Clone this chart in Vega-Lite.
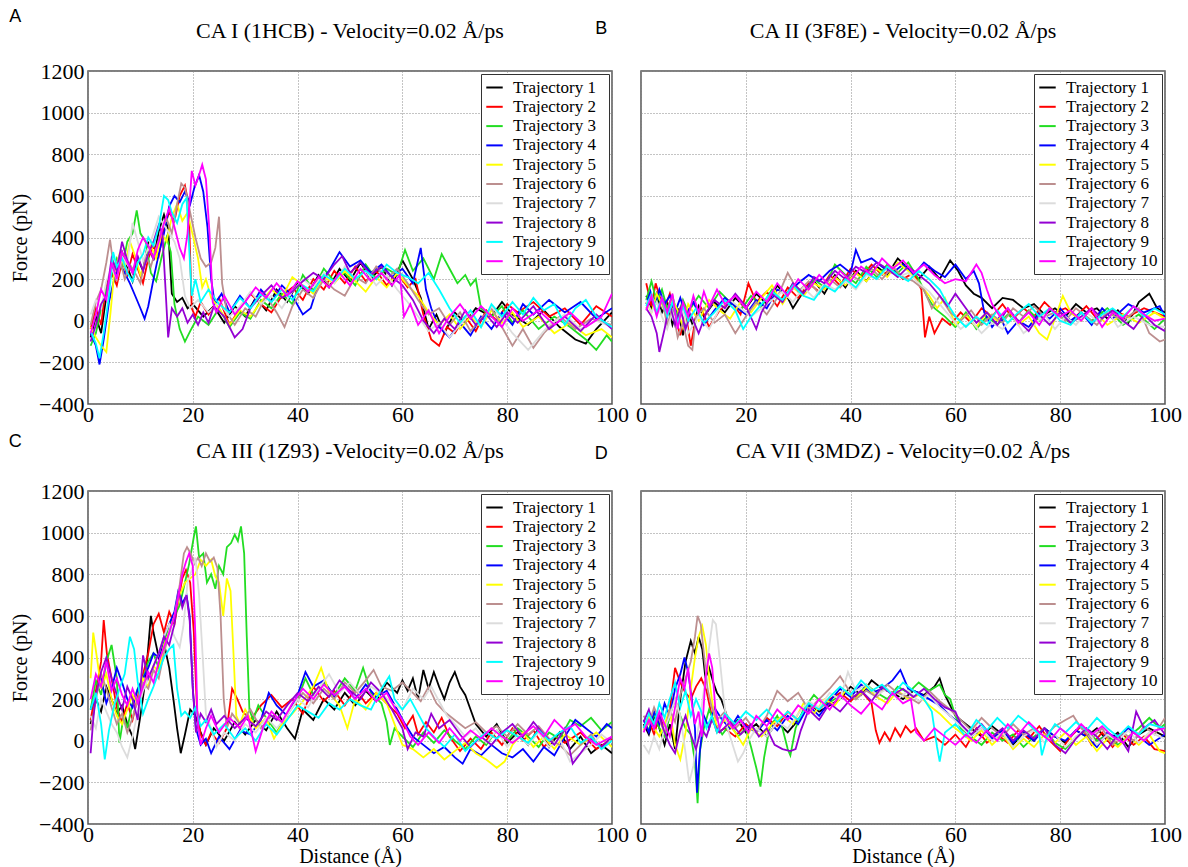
{
"$schema": "https://vega.github.io/schema/vega-lite/v6.json",
"background": "white",
"padding": {"left": 7, "top": 7, "right": 2, "bottom": 0},
"config": {
 "font": "Liberation Serif",
 "view": {"stroke": "#555", "strokeWidth": 1.5},
 "legend": {"orient": "top-right", "offset": 3, "strokeColor": "#333", "fillColor": "white", "padding": 4, "symbolType": "stroke", "symbolSize": 270, "symbolStrokeWidth": 2, "labelFont": "Liberation Serif", "labelFontSize": 17, "labelColor": "#000", "rowPadding": 1.3, "labelOffset": 9, "title": null}
},
"columns": 2,
"spacing": {"row": 87, "column": 29},
"bounds": "flush",
"resolve": {"scale": {"x": "independent", "y": "independent", "color": "independent"}, "legend": {"color": "independent"}},
"datasets": {
"A": [
{"s":1,"d":0.5,"f":-80},{"s":1,"d":1.5,"f":20},{"s":1,"d":2.5,"f":-60},{"s":1,"d":3.5,"f":120},{"s":1,"d":4.5,"f":260},{"s":1,"d":5.5,"f":200},{"s":1,"d":6.5,"f":330},{"s":1,"d":7.5,"f":260},{"s":1,"d":8.5,"f":190},{"s":1,"d":9.5,"f":300},{"s":1,"d":10.5,"f":240},{"s":1,"d":11.5,"f":380},{"s":1,"d":12.5,"f":290},{"s":1,"d":13.5,"f":430},{"s":1,"d":14.5,"f":510},{"s":1,"d":15.3,"f":440},{"s":1,"d":16,"f":130},{"s":1,"d":17,"f":90},{"s":1,"d":18,"f":110},{"s":1,"d":19,"f":60},{"s":1,"d":20,"f":80},{"s":1,"d":22,"f":20},{"s":1,"d":24,"f":70},{"s":1,"d":26,"f":-10},{"s":1,"d":28,"f":70},{"s":1,"d":30,"f":20},{"s":1,"d":32,"f":110},{"s":1,"d":34,"f":50},{"s":1,"d":36,"f":150},{"s":1,"d":38,"f":90},{"s":1,"d":40,"f":180},{"s":1,"d":42,"f":130},{"s":1,"d":44,"f":220},{"s":1,"d":46,"f":160},{"s":1,"d":48,"f":250},{"s":1,"d":50,"f":190},{"s":1,"d":52,"f":280},{"s":1,"d":54,"f":200},{"s":1,"d":56,"f":260},{"s":1,"d":58,"f":170},{"s":1,"d":60,"f":290},{"s":1,"d":62,"f":200},{"s":1,"d":63.5,"f":110},{"s":1,"d":65,"f":-40},{"s":1,"d":66.5,"f":30},{"s":1,"d":68,"f":-60},{"s":1,"d":70,"f":40},{"s":1,"d":72,"f":-10},{"s":1,"d":74,"f":60},{"s":1,"d":77,"f":20},{"s":1,"d":79,"f":90},{"s":1,"d":81,"f":30},{"s":1,"d":84,"f":-20},{"s":1,"d":87,"f":50},{"s":1,"d":90,"f":-30},{"s":1,"d":93,"f":-90},{"s":1,"d":95,"f":-110},{"s":1,"d":97,"f":-40},{"s":1,"d":100,"f":40},
{"s":2,"d":0.5,"f":-40},{"s":2,"d":1.5,"f":60},{"s":2,"d":2.5,"f":-20},{"s":2,"d":3.5,"f":180},{"s":2,"d":4.5,"f":230},{"s":2,"d":5.5,"f":170},{"s":2,"d":6.5,"f":290},{"s":2,"d":7.5,"f":220},{"s":2,"d":8.5,"f":320},{"s":2,"d":9.5,"f":250},{"s":2,"d":10.5,"f":180},{"s":2,"d":11.5,"f":300},{"s":2,"d":12.5,"f":360},{"s":2,"d":13.5,"f":310},{"s":2,"d":14.5,"f":450},{"s":2,"d":15.5,"f":520},{"s":2,"d":16.5,"f":480},{"s":2,"d":17.5,"f":600},{"s":2,"d":18.5,"f":650},{"s":2,"d":19.2,"f":560},{"s":2,"d":19.8,"f":60},{"s":2,"d":20.5,"f":20},{"s":2,"d":21.5,"f":90},{"s":2,"d":23,"f":30},{"s":2,"d":25,"f":110},{"s":2,"d":27,"f":-20},{"s":2,"d":29,"f":60},{"s":2,"d":31,"f":130},{"s":2,"d":33,"f":80},{"s":2,"d":35,"f":40},{"s":2,"d":37,"f":120},{"s":2,"d":39,"f":160},{"s":2,"d":41,"f":100},{"s":2,"d":43,"f":200},{"s":2,"d":45,"f":150},{"s":2,"d":47,"f":240},{"s":2,"d":49,"f":180},{"s":2,"d":51,"f":260},{"s":2,"d":53,"f":190},{"s":2,"d":55,"f":240},{"s":2,"d":57,"f":170},{"s":2,"d":59,"f":230},{"s":2,"d":61,"f":160},{"s":2,"d":62.5,"f":200},{"s":2,"d":64,"f":30},{"s":2,"d":65.5,"f":-90},{"s":2,"d":67,"f":-120},{"s":2,"d":68.5,"f":-30},{"s":2,"d":70,"f":-60},{"s":2,"d":72,"f":20},{"s":2,"d":74,"f":-50},{"s":2,"d":76,"f":50},{"s":2,"d":78,"f":0},{"s":2,"d":80,"f":80},{"s":2,"d":82,"f":40},{"s":2,"d":85,"f":90},{"s":2,"d":88,"f":20},{"s":2,"d":91,"f":60},{"s":2,"d":94,"f":-20},{"s":2,"d":97,"f":70},{"s":2,"d":100,"f":20},
{"s":3,"d":0.5,"f":-120},{"s":3,"d":1.5,"f":-60},{"s":3,"d":2.5,"f":60},{"s":3,"d":3.5,"f":150},{"s":3,"d":4.5,"f":220},{"s":3,"d":5.5,"f":300},{"s":3,"d":6.5,"f":250},{"s":3,"d":7.5,"f":380},{"s":3,"d":8.5,"f":420},{"s":3,"d":9.3,"f":530},{"s":3,"d":10,"f":420},{"s":3,"d":11,"f":380},{"s":3,"d":12,"f":230},{"s":3,"d":13,"f":190},{"s":3,"d":14,"f":300},{"s":3,"d":15,"f":400},{"s":3,"d":15.8,"f":330},{"s":3,"d":16.5,"f":80},{"s":3,"d":17.5,"f":-40},{"s":3,"d":18.5,"f":-100},{"s":3,"d":19.5,"f":-50},{"s":3,"d":21,"f":20},{"s":3,"d":23,"f":-20},{"s":3,"d":25,"f":60},{"s":3,"d":27,"f":-30},{"s":3,"d":29,"f":40},{"s":3,"d":31,"f":10},{"s":3,"d":33,"f":100},{"s":3,"d":35,"f":60},{"s":3,"d":37,"f":130},{"s":3,"d":39,"f":80},{"s":3,"d":41,"f":220},{"s":3,"d":43,"f":150},{"s":3,"d":45,"f":250},{"s":3,"d":47,"f":190},{"s":3,"d":49,"f":230},{"s":3,"d":51,"f":170},{"s":3,"d":53,"f":270},{"s":3,"d":55,"f":200},{"s":3,"d":57,"f":250},{"s":3,"d":59,"f":220},{"s":3,"d":60.5,"f":340},{"s":3,"d":62,"f":240},{"s":3,"d":64,"f":300},{"s":3,"d":66,"f":200},{"s":3,"d":67.5,"f":320},{"s":3,"d":69,"f":250},{"s":3,"d":70.5,"f":180},{"s":3,"d":72,"f":220},{"s":3,"d":73,"f":170},{"s":3,"d":74,"f":200},{"s":3,"d":75,"f":60},{"s":3,"d":77,"f":20},{"s":3,"d":79,"f":70},{"s":3,"d":81,"f":-10},{"s":3,"d":83,"f":50},{"s":3,"d":86,"f":-40},{"s":3,"d":89,"f":20},{"s":3,"d":92,"f":-30},{"s":3,"d":95,"f":-90},{"s":3,"d":97,"f":-140},{"s":3,"d":99,"f":-70},{"s":3,"d":100,"f":-100},
{"s":4,"d":0.5,"f":-60},{"s":4,"d":1.5,"f":-120},{"s":4,"d":2.2,"f":-210},{"s":4,"d":3,"f":-90},{"s":4,"d":4,"f":90},{"s":4,"d":5,"f":200},{"s":4,"d":6,"f":280},{"s":4,"d":7,"f":230},{"s":4,"d":8,"f":180},{"s":4,"d":9,"f":120},{"s":4,"d":10,"f":60},{"s":4,"d":10.8,"f":10},{"s":4,"d":11.5,"f":70},{"s":4,"d":12.5,"f":200},{"s":4,"d":13.5,"f":320},{"s":4,"d":14.5,"f":420},{"s":4,"d":15.5,"f":550},{"s":4,"d":16.5,"f":600},{"s":4,"d":17.5,"f":570},{"s":4,"d":18.5,"f":620},{"s":4,"d":19.5,"f":560},{"s":4,"d":20.3,"f":640},{"s":4,"d":21.2,"f":700},{"s":4,"d":22,"f":620},{"s":4,"d":22.8,"f":450},{"s":4,"d":23.5,"f":200},{"s":4,"d":24.2,"f":80},{"s":4,"d":25.5,"f":130},{"s":4,"d":27,"f":40},{"s":4,"d":29,"f":120},{"s":4,"d":31,"f":60},{"s":4,"d":33,"f":150},{"s":4,"d":35,"f":90},{"s":4,"d":37,"f":170},{"s":4,"d":39,"f":120},{"s":4,"d":41,"f":30},{"s":4,"d":42.5,"f":60},{"s":4,"d":44,"f":180},{"s":4,"d":46,"f":240},{"s":4,"d":48,"f":330},{"s":4,"d":50,"f":260},{"s":4,"d":52,"f":290},{"s":4,"d":54,"f":230},{"s":4,"d":56,"f":270},{"s":4,"d":58,"f":210},{"s":4,"d":60,"f":250},{"s":4,"d":62,"f":180},{"s":4,"d":63.5,"f":350},{"s":4,"d":64.5,"f":150},{"s":4,"d":65.5,"f":60},{"s":4,"d":67,"f":-30},{"s":4,"d":69,"f":-80},{"s":4,"d":71,"f":-10},{"s":4,"d":73,"f":-70},{"s":4,"d":75,"f":20},{"s":4,"d":77,"f":-40},{"s":4,"d":79,"f":40},{"s":4,"d":81,"f":-20},{"s":4,"d":83,"f":80},{"s":4,"d":85,"f":30},{"s":4,"d":88,"f":100},{"s":4,"d":91,"f":40},{"s":4,"d":94,"f":90},{"s":4,"d":97,"f":10},{"s":4,"d":100,"f":60},
{"s":5,"d":0.5,"f":-30},{"s":5,"d":1.5,"f":-80},{"s":5,"d":2.5,"f":-120},{"s":5,"d":3.5,"f":-150},{"s":5,"d":4.3,"f":40},{"s":5,"d":5,"f":230},{"s":5,"d":6,"f":320},{"s":5,"d":7,"f":260},{"s":5,"d":8,"f":380},{"s":5,"d":9,"f":310},{"s":5,"d":10,"f":220},{"s":5,"d":11,"f":280},{"s":5,"d":12,"f":360},{"s":5,"d":13,"f":300},{"s":5,"d":14,"f":420},{"s":5,"d":15,"f":380},{"s":5,"d":16,"f":500},{"s":5,"d":17,"f":560},{"s":5,"d":18,"f":480},{"s":5,"d":19,"f":520},{"s":5,"d":20,"f":410},{"s":5,"d":21,"f":300},{"s":5,"d":21.8,"f":160},{"s":5,"d":22.5,"f":200},{"s":5,"d":23.5,"f":110},{"s":5,"d":25,"f":60},{"s":5,"d":27,"f":-20},{"s":5,"d":29,"f":50},{"s":5,"d":31,"f":20},{"s":5,"d":33,"f":90},{"s":5,"d":35,"f":150},{"s":5,"d":37,"f":110},{"s":5,"d":39,"f":210},{"s":5,"d":41,"f":170},{"s":5,"d":43,"f":130},{"s":5,"d":45,"f":210},{"s":5,"d":47,"f":180},{"s":5,"d":49,"f":240},{"s":5,"d":51,"f":190},{"s":5,"d":53,"f":140},{"s":5,"d":55,"f":210},{"s":5,"d":57,"f":160},{"s":5,"d":59,"f":230},{"s":5,"d":61,"f":170},{"s":5,"d":63,"f":120},{"s":5,"d":65,"f":40},{"s":5,"d":67,"f":-20},{"s":5,"d":69,"f":30},{"s":5,"d":71,"f":-40},{"s":5,"d":73,"f":20},{"s":5,"d":75,"f":-30},{"s":5,"d":77,"f":50},{"s":5,"d":79,"f":-10},{"s":5,"d":81,"f":40},{"s":5,"d":83,"f":-30},{"s":5,"d":86,"f":20},{"s":5,"d":89,"f":-60},{"s":5,"d":92,"f":-10},{"s":5,"d":95,"f":-70},{"s":5,"d":98,"f":-40},{"s":5,"d":100,"f":-80},
{"s":6,"d":0.5,"f":-20},{"s":6,"d":1.5,"f":90},{"s":6,"d":2.5,"f":150},{"s":6,"d":3.5,"f":280},{"s":6,"d":4.2,"f":390},{"s":6,"d":5,"f":240},{"s":6,"d":6,"f":310},{"s":6,"d":7,"f":200},{"s":6,"d":8,"f":270},{"s":6,"d":9,"f":230},{"s":6,"d":10,"f":180},{"s":6,"d":11,"f":310},{"s":6,"d":12,"f":260},{"s":6,"d":13,"f":350},{"s":6,"d":14,"f":430},{"s":6,"d":15,"f":490},{"s":6,"d":16,"f":420},{"s":6,"d":17,"f":560},{"s":6,"d":17.8,"f":660},{"s":6,"d":18.5,"f":640},{"s":6,"d":19.5,"f":520},{"s":6,"d":20.5,"f":400},{"s":6,"d":21.5,"f":300},{"s":6,"d":22.5,"f":260},{"s":6,"d":23.5,"f":280},{"s":6,"d":24.3,"f":350},{"s":6,"d":25,"f":500},{"s":6,"d":25.6,"f":180},{"s":6,"d":26.5,"f":40},{"s":6,"d":28,"f":-20},{"s":6,"d":30,"f":60},{"s":6,"d":32,"f":20},{"s":6,"d":34,"f":120},{"s":6,"d":36,"f":40},{"s":6,"d":37.5,"f":-30},{"s":6,"d":39,"f":70},{"s":6,"d":41,"f":150},{"s":6,"d":43,"f":110},{"s":6,"d":45,"f":200},{"s":6,"d":47,"f":150},{"s":6,"d":49,"f":120},{"s":6,"d":51,"f":210},{"s":6,"d":53,"f":180},{"s":6,"d":55,"f":260},{"s":6,"d":57,"f":200},{"s":6,"d":59,"f":250},{"s":6,"d":61,"f":180},{"s":6,"d":63,"f":100},{"s":6,"d":65,"f":30},{"s":6,"d":67,"f":60},{"s":6,"d":69,"f":-20},{"s":6,"d":71,"f":40},{"s":6,"d":73,"f":-50},{"s":6,"d":75,"f":10},{"s":6,"d":77,"f":60},{"s":6,"d":79,"f":-30},{"s":6,"d":81,"f":-120},{"s":6,"d":83,"f":-40},{"s":6,"d":85,"f":-130},{"s":6,"d":87,"f":-60},{"s":6,"d":90,"f":20},{"s":6,"d":93,"f":-40},{"s":6,"d":96,"f":10},{"s":6,"d":100,"f":-20},
{"s":7,"d":0.5,"f":30},{"s":7,"d":1.5,"f":100},{"s":7,"d":2.5,"f":60},{"s":7,"d":3.5,"f":190},{"s":7,"d":4.5,"f":250},{"s":7,"d":5.5,"f":200},{"s":7,"d":6.5,"f":310},{"s":7,"d":7.5,"f":270},{"s":7,"d":8.5,"f":470},{"s":7,"d":9.5,"f":380},{"s":7,"d":10.5,"f":290},{"s":7,"d":11.5,"f":350},{"s":7,"d":12.5,"f":420},{"s":7,"d":13.5,"f":500},{"s":7,"d":14.5,"f":460},{"s":7,"d":15.5,"f":420},{"s":7,"d":16.5,"f":380},{"s":7,"d":17.5,"f":300},{"s":7,"d":18.5,"f":120},{"s":7,"d":19.5,"f":60},{"s":7,"d":21,"f":100},{"s":7,"d":23,"f":40},{"s":7,"d":25,"f":90},{"s":7,"d":27,"f":20},{"s":7,"d":29,"f":70},{"s":7,"d":31,"f":140},{"s":7,"d":33,"f":80},{"s":7,"d":35,"f":120},{"s":7,"d":37,"f":60},{"s":7,"d":39,"f":140},{"s":7,"d":41,"f":200},{"s":7,"d":43,"f":160},{"s":7,"d":45,"f":230},{"s":7,"d":47,"f":180},{"s":7,"d":49,"f":260},{"s":7,"d":51,"f":200},{"s":7,"d":53,"f":240},{"s":7,"d":55,"f":170},{"s":7,"d":57,"f":220},{"s":7,"d":59,"f":150},{"s":7,"d":61,"f":90},{"s":7,"d":63,"f":20},{"s":7,"d":65,"f":-50},{"s":7,"d":67,"f":-10},{"s":7,"d":69,"f":-80},{"s":7,"d":71,"f":-20},{"s":7,"d":73,"f":40},{"s":7,"d":75,"f":-30},{"s":7,"d":77,"f":70},{"s":7,"d":79,"f":10},{"s":7,"d":81,"f":-60},{"s":7,"d":84,"f":-140},{"s":7,"d":86,"f":-80},{"s":7,"d":88,"f":-20},{"s":7,"d":91,"f":30},{"s":7,"d":94,"f":-40},{"s":7,"d":97,"f":0},{"s":7,"d":100,"f":-30},
{"s":8,"d":0.5,"f":-100},{"s":8,"d":1.5,"f":-20},{"s":8,"d":2.5,"f":80},{"s":8,"d":3.5,"f":120},{"s":8,"d":4.5,"f":300},{"s":8,"d":5.5,"f":240},{"s":8,"d":6.5,"f":380},{"s":8,"d":7.5,"f":290},{"s":8,"d":8.5,"f":230},{"s":8,"d":9.5,"f":310},{"s":8,"d":10.5,"f":240},{"s":8,"d":11.5,"f":320},{"s":8,"d":12.5,"f":380},{"s":8,"d":13.5,"f":460},{"s":8,"d":14.2,"f":420},{"s":8,"d":14.8,"f":150},{"s":8,"d":15.3,"f":-80},{"s":8,"d":16,"f":60},{"s":8,"d":17,"f":20},{"s":8,"d":18,"f":60},{"s":8,"d":19,"f":-10},{"s":8,"d":20,"f":30},{"s":8,"d":21,"f":-20},{"s":8,"d":22,"f":40},{"s":8,"d":23,"f":-10},{"s":8,"d":24,"f":70},{"s":8,"d":26,"f":20},{"s":8,"d":28,"f":-80},{"s":8,"d":29.5,"f":-40},{"s":8,"d":31,"f":60},{"s":8,"d":33,"f":120},{"s":8,"d":35,"f":170},{"s":8,"d":37,"f":110},{"s":8,"d":39,"f":140},{"s":8,"d":41,"f":190},{"s":8,"d":43,"f":230},{"s":8,"d":45,"f":200},{"s":8,"d":47,"f":270},{"s":8,"d":48.5,"f":310},{"s":8,"d":50,"f":230},{"s":8,"d":52,"f":280},{"s":8,"d":54,"f":220},{"s":8,"d":56,"f":260},{"s":8,"d":58,"f":210},{"s":8,"d":60,"f":170},{"s":8,"d":62,"f":100},{"s":8,"d":64,"f":0},{"s":8,"d":66,"f":-60},{"s":8,"d":68,"f":10},{"s":8,"d":70,"f":-40},{"s":8,"d":72,"f":50},{"s":8,"d":74,"f":-20},{"s":8,"d":76,"f":30},{"s":8,"d":78,"f":-30},{"s":8,"d":80,"f":40},{"s":8,"d":82,"f":-10},{"s":8,"d":85,"f":70},{"s":8,"d":88,"f":-40},{"s":8,"d":91,"f":20},{"s":8,"d":94,"f":-50},{"s":8,"d":97,"f":30},{"s":8,"d":100,"f":-40},
{"s":9,"d":0.5,"f":-50},{"s":9,"d":1.5,"f":-110},{"s":9,"d":2.2,"f":-180},{"s":9,"d":3,"f":-60},{"s":9,"d":4,"f":120},{"s":9,"d":4.8,"f":330},{"s":9,"d":5.5,"f":260},{"s":9,"d":6.5,"f":300},{"s":9,"d":7.5,"f":230},{"s":9,"d":8.5,"f":190},{"s":9,"d":9.5,"f":280},{"s":9,"d":10.5,"f":320},{"s":9,"d":11.5,"f":400},{"s":9,"d":12.5,"f":360},{"s":9,"d":13.5,"f":450},{"s":9,"d":14.5,"f":600},{"s":9,"d":15.3,"f":580},{"s":9,"d":16,"f":520},{"s":9,"d":17,"f":470},{"s":9,"d":18,"f":560},{"s":9,"d":18.8,"f":590},{"s":9,"d":19.3,"f":350},{"s":9,"d":19.8,"f":120},{"s":9,"d":20.5,"f":200},{"s":9,"d":21.5,"f":90},{"s":9,"d":23,"f":150},{"s":9,"d":25,"f":80},{"s":9,"d":27,"f":40},{"s":9,"d":29,"f":110},{"s":9,"d":31,"f":60},{"s":9,"d":33,"f":130},{"s":9,"d":35,"f":90},{"s":9,"d":37,"f":150},{"s":9,"d":39,"f":100},{"s":9,"d":41,"f":170},{"s":9,"d":43,"f":140},{"s":9,"d":45,"f":220},{"s":9,"d":47,"f":190},{"s":9,"d":49,"f":250},{"s":9,"d":51,"f":200},{"s":9,"d":53,"f":240},{"s":9,"d":55,"f":200},{"s":9,"d":57,"f":270},{"s":9,"d":59,"f":230},{"s":9,"d":61,"f":210},{"s":9,"d":63,"f":180},{"s":9,"d":65,"f":230},{"s":9,"d":67,"f":150},{"s":9,"d":69,"f":60},{"s":9,"d":71,"f":-10},{"s":9,"d":73,"f":50},{"s":9,"d":75,"f":-30},{"s":9,"d":77,"f":80},{"s":9,"d":79,"f":20},{"s":9,"d":81,"f":90},{"s":9,"d":83,"f":30},{"s":9,"d":85,"f":110},{"s":9,"d":87,"f":50},{"s":9,"d":89,"f":80},{"s":9,"d":91,"f":-20},{"s":9,"d":93,"f":60},{"s":9,"d":95,"f":100},{"s":9,"d":97,"f":20},{"s":9,"d":100,"f":-30},
{"s":10,"d":0.5,"f":-60},{"s":10,"d":1.5,"f":30},{"s":10,"d":2.5,"f":150},{"s":10,"d":3.5,"f":100},{"s":10,"d":4.5,"f":280},{"s":10,"d":5.5,"f":200},{"s":10,"d":6.5,"f":330},{"s":10,"d":7.5,"f":280},{"s":10,"d":8.5,"f":230},{"s":10,"d":9.5,"f":340},{"s":10,"d":10.5,"f":400},{"s":10,"d":11.5,"f":360},{"s":10,"d":12.5,"f":300},{"s":10,"d":13.5,"f":380},{"s":10,"d":14.5,"f":470},{"s":10,"d":15.5,"f":540},{"s":10,"d":16.5,"f":450},{"s":10,"d":17.5,"f":350},{"s":10,"d":18.3,"f":300},{"s":10,"d":19,"f":420},{"s":10,"d":19.8,"f":720},{"s":10,"d":20.5,"f":650},{"s":10,"d":21.2,"f":700},{"s":10,"d":21.8,"f":750},{"s":10,"d":22.5,"f":680},{"s":10,"d":23.2,"f":420},{"s":10,"d":23.8,"f":90},{"s":10,"d":24.5,"f":40},{"s":10,"d":26,"f":120},{"s":10,"d":28,"f":30},{"s":10,"d":30,"f":90},{"s":10,"d":32,"f":160},{"s":10,"d":34,"f":110},{"s":10,"d":36,"f":180},{"s":10,"d":38,"f":120},{"s":10,"d":40,"f":190},{"s":10,"d":42,"f":140},{"s":10,"d":44,"f":210},{"s":10,"d":46,"f":160},{"s":10,"d":48,"f":230},{"s":10,"d":50,"f":170},{"s":10,"d":52,"f":250},{"s":10,"d":54,"f":190},{"s":10,"d":56,"f":230},{"s":10,"d":58,"f":170},{"s":10,"d":59.5,"f":220},{"s":10,"d":60.3,"f":20},{"s":10,"d":61.5,"f":80},{"s":10,"d":63,"f":-20},{"s":10,"d":65,"f":50},{"s":10,"d":67,"f":-60},{"s":10,"d":69,"f":20},{"s":10,"d":71,"f":80},{"s":10,"d":73,"f":10},{"s":10,"d":75,"f":70},{"s":10,"d":77,"f":20},{"s":10,"d":79,"f":-30},{"s":10,"d":81,"f":60},{"s":10,"d":83,"f":0},{"s":10,"d":86,"f":50},{"s":10,"d":89,"f":-20},{"s":10,"d":92,"f":40},{"s":10,"d":95,"f":-30},{"s":10,"d":98,"f":20},{"s":10,"d":100,"f":130}
],
"B": [
{"s":1,"d":1,"f":120},{"s":1,"d":2,"f":60},{"s":1,"d":3,"f":130},{"s":1,"d":4,"f":40},{"s":1,"d":5,"f":90},{"s":1,"d":6,"f":-20},{"s":1,"d":7,"f":60},{"s":1,"d":8,"f":-70},{"s":1,"d":9,"f":40},{"s":1,"d":10,"f":-30},{"s":1,"d":11,"f":70},{"s":1,"d":12,"f":20},{"s":1,"d":14,"f":90},{"s":1,"d":16,"f":40},{"s":1,"d":18,"f":110},{"s":1,"d":20,"f":60},{"s":1,"d":22,"f":130},{"s":1,"d":24,"f":80},{"s":1,"d":26,"f":170},{"s":1,"d":28,"f":110},{"s":1,"d":29,"f":60},{"s":1,"d":31,"f":140},{"s":1,"d":33,"f":190},{"s":1,"d":35,"f":130},{"s":1,"d":37,"f":220},{"s":1,"d":39,"f":160},{"s":1,"d":41,"f":240},{"s":1,"d":43,"f":190},{"s":1,"d":45,"f":260},{"s":1,"d":47,"f":220},{"s":1,"d":49,"f":300},{"s":1,"d":51,"f":250},{"s":1,"d":53,"f":200},{"s":1,"d":55,"f":260},{"s":1,"d":57,"f":200},{"s":1,"d":59,"f":290},{"s":1,"d":60.5,"f":240},{"s":1,"d":62,"f":170},{"s":1,"d":63.5,"f":130},{"s":1,"d":65,"f":110},{"s":1,"d":67,"f":60},{"s":1,"d":69,"f":110},{"s":1,"d":71,"f":100},{"s":1,"d":73,"f":60},{"s":1,"d":75,"f":80},{"s":1,"d":77,"f":30},{"s":1,"d":79,"f":60},{"s":1,"d":81,"f":20},{"s":1,"d":83,"f":80},{"s":1,"d":85,"f":40},{"s":1,"d":87,"f":60},{"s":1,"d":89,"f":10},{"s":1,"d":91,"f":50},{"s":1,"d":93,"f":-10},{"s":1,"d":95,"f":90},{"s":1,"d":97,"f":130},{"s":1,"d":98.5,"f":60},{"s":1,"d":100,"f":40},
{"s":2,"d":1,"f":180},{"s":2,"d":2,"f":70},{"s":2,"d":2.8,"f":180},{"s":2,"d":3.5,"f":120},{"s":2,"d":4.5,"f":60},{"s":2,"d":5.5,"f":130},{"s":2,"d":6.5,"f":20},{"s":2,"d":7.5,"f":-70},{"s":2,"d":8.5,"f":40},{"s":2,"d":9.5,"f":-120},{"s":2,"d":10.5,"f":20},{"s":2,"d":11.5,"f":60},{"s":2,"d":13,"f":-30},{"s":2,"d":15,"f":50},{"s":2,"d":17,"f":100},{"s":2,"d":19,"f":30},{"s":2,"d":20.5,"f":180},{"s":2,"d":22,"f":90},{"s":2,"d":24,"f":140},{"s":2,"d":26,"f":70},{"s":2,"d":28,"f":160},{"s":2,"d":30,"f":110},{"s":2,"d":32,"f":180},{"s":2,"d":34,"f":140},{"s":2,"d":36,"f":220},{"s":2,"d":38,"f":170},{"s":2,"d":40,"f":250},{"s":2,"d":42,"f":210},{"s":2,"d":44,"f":270},{"s":2,"d":46,"f":220},{"s":2,"d":48,"f":250},{"s":2,"d":50,"f":200},{"s":2,"d":52,"f":230},{"s":2,"d":53.5,"f":150},{"s":2,"d":54.2,"f":-80},{"s":2,"d":55,"f":20},{"s":2,"d":56,"f":-60},{"s":2,"d":57.5,"f":10},{"s":2,"d":59,"f":-20},{"s":2,"d":61,"f":40},{"s":2,"d":63,"f":-10},{"s":2,"d":65,"f":60},{"s":2,"d":67,"f":20},{"s":2,"d":69,"f":80},{"s":2,"d":71,"f":10},{"s":2,"d":73,"f":60},{"s":2,"d":75,"f":20},{"s":2,"d":77,"f":90},{"s":2,"d":79,"f":40},{"s":2,"d":81,"f":60},{"s":2,"d":83,"f":20},{"s":2,"d":85,"f":70},{"s":2,"d":87,"f":10},{"s":2,"d":90,"f":50},{"s":2,"d":93,"f":20},{"s":2,"d":96,"f":60},{"s":2,"d":100,"f":20},
{"s":3,"d":1,"f":100},{"s":3,"d":2,"f":190},{"s":3,"d":3,"f":90},{"s":3,"d":4,"f":150},{"s":3,"d":5,"f":60},{"s":3,"d":6,"f":120},{"s":3,"d":7,"f":20},{"s":3,"d":8,"f":100},{"s":3,"d":9,"f":40},{"s":3,"d":11,"f":120},{"s":3,"d":13,"f":60},{"s":3,"d":15,"f":140},{"s":3,"d":17,"f":90},{"s":3,"d":19,"f":50},{"s":3,"d":21,"f":120},{"s":3,"d":23,"f":70},{"s":3,"d":25,"f":150},{"s":3,"d":27,"f":90},{"s":3,"d":29,"f":180},{"s":3,"d":31,"f":130},{"s":3,"d":33,"f":200},{"s":3,"d":35,"f":160},{"s":3,"d":37,"f":270},{"s":3,"d":39,"f":220},{"s":3,"d":41,"f":180},{"s":3,"d":43,"f":260},{"s":3,"d":45,"f":210},{"s":3,"d":47,"f":270},{"s":3,"d":49,"f":230},{"s":3,"d":51,"f":280},{"s":3,"d":53,"f":200},{"s":3,"d":54.5,"f":120},{"s":3,"d":56,"f":60},{"s":3,"d":58,"f":20},{"s":3,"d":60,"f":-30},{"s":3,"d":62,"f":40},{"s":3,"d":64,"f":-40},{"s":3,"d":66,"f":20},{"s":3,"d":68,"f":-20},{"s":3,"d":70,"f":30},{"s":3,"d":72,"f":-10},{"s":3,"d":74,"f":50},{"s":3,"d":76,"f":0},{"s":3,"d":78,"f":60},{"s":3,"d":80,"f":20},{"s":3,"d":82,"f":-10},{"s":3,"d":84,"f":40},{"s":3,"d":86,"f":0},{"s":3,"d":89,"f":60},{"s":3,"d":92,"f":-20},{"s":3,"d":95,"f":30},{"s":3,"d":98,"f":-40},{"s":3,"d":100,"f":10},
{"s":4,"d":1,"f":80},{"s":4,"d":1.8,"f":140},{"s":4,"d":2.5,"f":60},{"s":4,"d":3.5,"f":150},{"s":4,"d":4.5,"f":80},{"s":4,"d":5.5,"f":120},{"s":4,"d":6.5,"f":40},{"s":4,"d":7.5,"f":110},{"s":4,"d":8.5,"f":30},{"s":4,"d":10,"f":90},{"s":4,"d":12,"f":-20},{"s":4,"d":14,"f":50},{"s":4,"d":16,"f":110},{"s":4,"d":18,"f":70},{"s":4,"d":20,"f":30},{"s":4,"d":22,"f":100},{"s":4,"d":24,"f":60},{"s":4,"d":26,"f":150},{"s":4,"d":28,"f":130},{"s":4,"d":30,"f":180},{"s":4,"d":32,"f":220},{"s":4,"d":34,"f":190},{"s":4,"d":36,"f":240},{"s":4,"d":38,"f":270},{"s":4,"d":40,"f":230},{"s":4,"d":41,"f":340},{"s":4,"d":42,"f":280},{"s":4,"d":44,"f":300},{"s":4,"d":46,"f":260},{"s":4,"d":48,"f":230},{"s":4,"d":50,"f":270},{"s":4,"d":52,"f":220},{"s":4,"d":54,"f":280},{"s":4,"d":56,"f":240},{"s":4,"d":58,"f":210},{"s":4,"d":60,"f":270},{"s":4,"d":62,"f":200},{"s":4,"d":63.5,"f":240},{"s":4,"d":64.5,"f":180},{"s":4,"d":65.5,"f":40},{"s":4,"d":67,"f":-30},{"s":4,"d":68.5,"f":20},{"s":4,"d":70,"f":-60},{"s":4,"d":72,"f":0},{"s":4,"d":74,"f":-30},{"s":4,"d":76,"f":40},{"s":4,"d":78,"f":10},{"s":4,"d":80,"f":60},{"s":4,"d":82,"f":0},{"s":4,"d":84,"f":40},{"s":4,"d":86,"f":-20},{"s":4,"d":88,"f":60},{"s":4,"d":90,"f":10},{"s":4,"d":93,"f":80},{"s":4,"d":96,"f":40},{"s":4,"d":99,"f":70},{"s":4,"d":100,"f":20},
{"s":5,"d":1,"f":90},{"s":5,"d":2,"f":40},{"s":5,"d":3,"f":130},{"s":5,"d":4,"f":80},{"s":5,"d":5,"f":20},{"s":5,"d":6,"f":100},{"s":5,"d":7,"f":50},{"s":5,"d":8,"f":-30},{"s":5,"d":9,"f":80},{"s":5,"d":11,"f":0},{"s":5,"d":13,"f":100},{"s":5,"d":15,"f":50},{"s":5,"d":17,"f":10},{"s":5,"d":19,"f":90},{"s":5,"d":21,"f":40},{"s":5,"d":23,"f":110},{"s":5,"d":25,"f":170},{"s":5,"d":27,"f":80},{"s":5,"d":29,"f":160},{"s":5,"d":31,"f":120},{"s":5,"d":33,"f":180},{"s":5,"d":35,"f":150},{"s":5,"d":37,"f":210},{"s":5,"d":39,"f":170},{"s":5,"d":41,"f":230},{"s":5,"d":43,"f":190},{"s":5,"d":45,"f":250},{"s":5,"d":47,"f":210},{"s":5,"d":49,"f":280},{"s":5,"d":51,"f":240},{"s":5,"d":53,"f":180},{"s":5,"d":55,"f":120},{"s":5,"d":56.5,"f":60},{"s":5,"d":58,"f":110},{"s":5,"d":60,"f":-20},{"s":5,"d":62,"f":30},{"s":5,"d":64,"f":-30},{"s":5,"d":66,"f":40},{"s":5,"d":68,"f":0},{"s":5,"d":70,"f":60},{"s":5,"d":72,"f":-20},{"s":5,"d":74,"f":20},{"s":5,"d":76,"f":-60},{"s":5,"d":77.5,"f":-90},{"s":5,"d":79,"f":10},{"s":5,"d":80.5,"f":120},{"s":5,"d":82,"f":40},{"s":5,"d":84,"f":0},{"s":5,"d":86,"f":60},{"s":5,"d":89,"f":-20},{"s":5,"d":92,"f":30},{"s":5,"d":95,"f":-10},{"s":5,"d":98,"f":40},{"s":5,"d":100,"f":10},
{"s":6,"d":1,"f":60},{"s":6,"d":2,"f":120},{"s":6,"d":3,"f":30},{"s":6,"d":4,"f":100},{"s":6,"d":5,"f":-20},{"s":6,"d":6,"f":60},{"s":6,"d":7,"f":-80},{"s":6,"d":8,"f":-10},{"s":6,"d":9,"f":-120},{"s":6,"d":9.8,"f":-140},{"s":6,"d":10.5,"f":20},{"s":6,"d":12,"f":60},{"s":6,"d":14,"f":-10},{"s":6,"d":16,"f":30},{"s":6,"d":18,"f":-60},{"s":6,"d":20,"f":20},{"s":6,"d":22,"f":90},{"s":6,"d":24,"f":30},{"s":6,"d":26,"f":110},{"s":6,"d":28,"f":230},{"s":6,"d":30,"f":140},{"s":6,"d":32,"f":190},{"s":6,"d":34,"f":130},{"s":6,"d":36,"f":200},{"s":6,"d":38,"f":160},{"s":6,"d":40,"f":220},{"s":6,"d":42,"f":190},{"s":6,"d":44,"f":250},{"s":6,"d":46,"f":200},{"s":6,"d":48,"f":260},{"s":6,"d":50,"f":210},{"s":6,"d":52,"f":190},{"s":6,"d":54,"f":150},{"s":6,"d":55.5,"f":60},{"s":6,"d":57,"f":120},{"s":6,"d":59,"f":40},{"s":6,"d":61,"f":0},{"s":6,"d":63,"f":50},{"s":6,"d":65,"f":-20},{"s":6,"d":67,"f":30},{"s":6,"d":69,"f":-10},{"s":6,"d":71,"f":60},{"s":6,"d":73,"f":20},{"s":6,"d":75,"f":70},{"s":6,"d":77,"f":20},{"s":6,"d":79,"f":40},{"s":6,"d":81,"f":0},{"s":6,"d":83,"f":60},{"s":6,"d":85,"f":20},{"s":6,"d":87,"f":-20},{"s":6,"d":89,"f":40},{"s":6,"d":92,"f":0},{"s":6,"d":95,"f":60},{"s":6,"d":97,"f":-60},{"s":6,"d":99,"f":-100},{"s":6,"d":100,"f":-90},
{"s":7,"d":1,"f":100},{"s":7,"d":2,"f":40},{"s":7,"d":3,"f":90},{"s":7,"d":4,"f":20},{"s":7,"d":5,"f":-40},{"s":7,"d":6,"f":40},{"s":7,"d":7,"f":-20},{"s":7,"d":8,"f":60},{"s":7,"d":9,"f":-60},{"s":7,"d":11,"f":20},{"s":7,"d":13,"f":-40},{"s":7,"d":15,"f":60},{"s":7,"d":17,"f":100},{"s":7,"d":19,"f":60},{"s":7,"d":21,"f":20},{"s":7,"d":23,"f":60},{"s":7,"d":25,"f":100},{"s":7,"d":27,"f":140},{"s":7,"d":29,"f":90},{"s":7,"d":31,"f":160},{"s":7,"d":33,"f":110},{"s":7,"d":35,"f":180},{"s":7,"d":37,"f":150},{"s":7,"d":39,"f":190},{"s":7,"d":41,"f":150},{"s":7,"d":43,"f":220},{"s":7,"d":45,"f":200},{"s":7,"d":47,"f":250},{"s":7,"d":49,"f":210},{"s":7,"d":51,"f":230},{"s":7,"d":53,"f":180},{"s":7,"d":55,"f":140},{"s":7,"d":57,"f":80},{"s":7,"d":59,"f":20},{"s":7,"d":61,"f":-40},{"s":7,"d":63,"f":0},{"s":7,"d":65,"f":-60},{"s":7,"d":67,"f":-10},{"s":7,"d":69,"f":-40},{"s":7,"d":71,"f":20},{"s":7,"d":73,"f":-60},{"s":7,"d":75,"f":-20},{"s":7,"d":77,"f":30},{"s":7,"d":79,"f":-40},{"s":7,"d":81,"f":20},{"s":7,"d":83,"f":-20},{"s":7,"d":85,"f":40},{"s":7,"d":87,"f":0},{"s":7,"d":89,"f":50},{"s":7,"d":91,"f":-30},{"s":7,"d":94,"f":20},{"s":7,"d":97,"f":-20},{"s":7,"d":100,"f":-30},
{"s":8,"d":1,"f":60},{"s":8,"d":2,"f":20},{"s":8,"d":3,"f":-60},{"s":8,"d":3.5,"f":-150},{"s":8,"d":4.5,"f":-40},{"s":8,"d":5.5,"f":80},{"s":8,"d":6.5,"f":-20},{"s":8,"d":7.5,"f":60},{"s":8,"d":8.5,"f":-40},{"s":8,"d":9.5,"f":30},{"s":8,"d":11,"f":-60},{"s":8,"d":12.5,"f":40},{"s":8,"d":14,"f":100},{"s":8,"d":16,"f":60},{"s":8,"d":18,"f":130},{"s":8,"d":20,"f":70},{"s":8,"d":22,"f":-40},{"s":8,"d":23,"f":40},{"s":8,"d":25,"f":130},{"s":8,"d":27,"f":90},{"s":8,"d":29,"f":180},{"s":8,"d":31,"f":130},{"s":8,"d":33,"f":210},{"s":8,"d":35,"f":180},{"s":8,"d":37,"f":240},{"s":8,"d":39,"f":200},{"s":8,"d":41,"f":260},{"s":8,"d":43,"f":230},{"s":8,"d":45,"f":280},{"s":8,"d":47,"f":250},{"s":8,"d":49,"f":210},{"s":8,"d":51,"f":260},{"s":8,"d":53,"f":220},{"s":8,"d":55,"f":180},{"s":8,"d":57,"f":120},{"s":8,"d":58.5,"f":70},{"s":8,"d":60,"f":130},{"s":8,"d":62,"f":60},{"s":8,"d":64,"f":-10},{"s":8,"d":66,"f":40},{"s":8,"d":68,"f":-20},{"s":8,"d":70,"f":60},{"s":8,"d":72,"f":0},{"s":8,"d":74,"f":-50},{"s":8,"d":76,"f":30},{"s":8,"d":78,"f":-20},{"s":8,"d":80,"f":40},{"s":8,"d":82,"f":-10},{"s":8,"d":84,"f":20},{"s":8,"d":86,"f":60},{"s":8,"d":88,"f":10},{"s":8,"d":90,"f":50},{"s":8,"d":92,"f":0},{"s":8,"d":94,"f":-40},{"s":8,"d":96,"f":30},{"s":8,"d":98,"f":-20},{"s":8,"d":100,"f":-50},
{"s":9,"d":1,"f":70},{"s":9,"d":2,"f":130},{"s":9,"d":3,"f":40},{"s":9,"d":4,"f":110},{"s":9,"d":5,"f":20},{"s":9,"d":6,"f":90},{"s":9,"d":7,"f":-10},{"s":9,"d":8,"f":70},{"s":9,"d":9,"f":0},{"s":9,"d":10.5,"f":60},{"s":9,"d":12,"f":-10},{"s":9,"d":14,"f":40},{"s":9,"d":16,"f":100},{"s":9,"d":18,"f":50},{"s":9,"d":19.5,"f":-40},{"s":9,"d":21,"f":20},{"s":9,"d":23,"f":80},{"s":9,"d":25,"f":140},{"s":9,"d":27,"f":100},{"s":9,"d":29,"f":170},{"s":9,"d":31,"f":120},{"s":9,"d":33,"f":100},{"s":9,"d":35,"f":170},{"s":9,"d":37,"f":140},{"s":9,"d":39,"f":200},{"s":9,"d":41,"f":160},{"s":9,"d":43,"f":230},{"s":9,"d":45,"f":200},{"s":9,"d":47,"f":260},{"s":9,"d":49,"f":220},{"s":9,"d":51,"f":190},{"s":9,"d":53,"f":240},{"s":9,"d":55,"f":200},{"s":9,"d":57,"f":150},{"s":9,"d":58.5,"f":80},{"s":9,"d":60,"f":20},{"s":9,"d":62,"f":-30},{"s":9,"d":64,"f":20},{"s":9,"d":66,"f":-20},{"s":9,"d":68,"f":50},{"s":9,"d":70,"f":-10},{"s":9,"d":72,"f":40},{"s":9,"d":74,"f":80},{"s":9,"d":76,"f":20},{"s":9,"d":78,"f":60},{"s":9,"d":80,"f":0},{"s":9,"d":82,"f":-20},{"s":9,"d":84,"f":40},{"s":9,"d":86,"f":-10},{"s":9,"d":88,"f":30},{"s":9,"d":90,"f":60},{"s":9,"d":92,"f":20},{"s":9,"d":94,"f":70},{"s":9,"d":96,"f":20},{"s":9,"d":98,"f":60},{"s":9,"d":100,"f":30},
{"s":10,"d":1,"f":50},{"s":10,"d":2,"f":120},{"s":10,"d":3,"f":20},{"s":10,"d":4,"f":110},{"s":10,"d":5,"f":40},{"s":10,"d":6,"f":130},{"s":10,"d":7,"f":-40},{"s":10,"d":8,"f":90},{"s":10,"d":9,"f":20},{"s":10,"d":10,"f":120},{"s":10,"d":11,"f":40},{"s":10,"d":12,"f":140},{"s":10,"d":13,"f":70},{"s":10,"d":14.5,"f":150},{"s":10,"d":16,"f":80},{"s":10,"d":18,"f":120},{"s":10,"d":20,"f":60},{"s":10,"d":22,"f":140},{"s":10,"d":24,"f":90},{"s":10,"d":26,"f":180},{"s":10,"d":28,"f":120},{"s":10,"d":30,"f":200},{"s":10,"d":32,"f":150},{"s":10,"d":34,"f":220},{"s":10,"d":36,"f":170},{"s":10,"d":38,"f":240},{"s":10,"d":40,"f":190},{"s":10,"d":42,"f":260},{"s":10,"d":44,"f":220},{"s":10,"d":46,"f":300},{"s":10,"d":48,"f":250},{"s":10,"d":50,"f":290},{"s":10,"d":52,"f":230},{"s":10,"d":54,"f":270},{"s":10,"d":56,"f":220},{"s":10,"d":58,"f":180},{"s":10,"d":60,"f":200},{"s":10,"d":62,"f":190},{"s":10,"d":64,"f":270},{"s":10,"d":65,"f":230},{"s":10,"d":66,"f":150},{"s":10,"d":67,"f":80},{"s":10,"d":68.5,"f":20},{"s":10,"d":70,"f":60},{"s":10,"d":72,"f":-10},{"s":10,"d":74,"f":40},{"s":10,"d":76,"f":-20},{"s":10,"d":78,"f":60},{"s":10,"d":80,"f":20},{"s":10,"d":82,"f":50},{"s":10,"d":84,"f":0},{"s":10,"d":86,"f":60},{"s":10,"d":88,"f":-30},{"s":10,"d":90,"f":40},{"s":10,"d":92,"f":10},{"s":10,"d":94,"f":70},{"s":10,"d":96,"f":30},{"s":10,"d":98,"f":0},{"s":10,"d":100,"f":10}
],
"C": [
{"s":1,"d":0.5,"f":80},{"s":1,"d":1.5,"f":200},{"s":1,"d":2.5,"f":140},{"s":1,"d":3.5,"f":260},{"s":1,"d":4.5,"f":200},{"s":1,"d":5.5,"f":130},{"s":1,"d":6.5,"f":170},{"s":1,"d":7.5,"f":80},{"s":1,"d":8.5,"f":20},{"s":1,"d":9,"f":-40},{"s":1,"d":10,"f":120},{"s":1,"d":11,"f":300},{"s":1,"d":12,"f":600},{"s":1,"d":12.5,"f":520},{"s":1,"d":13.5,"f":400},{"s":1,"d":14.5,"f":470},{"s":1,"d":15.5,"f":350},{"s":1,"d":16.3,"f":200},{"s":1,"d":17,"f":60},{"s":1,"d":17.7,"f":-60},{"s":1,"d":18.5,"f":30},{"s":1,"d":19.5,"f":150},{"s":1,"d":20.5,"f":120},{"s":1,"d":21.5,"f":40},{"s":1,"d":22.5,"f":-20},{"s":1,"d":24,"f":60},{"s":1,"d":26,"f":0},{"s":1,"d":28,"f":90},{"s":1,"d":30,"f":30},{"s":1,"d":32,"f":100},{"s":1,"d":34,"f":50},{"s":1,"d":36,"f":140},{"s":1,"d":38,"f":60},{"s":1,"d":39.5,"f":10},{"s":1,"d":41,"f":150},{"s":1,"d":43,"f":100},{"s":1,"d":45,"f":200},{"s":1,"d":47,"f":150},{"s":1,"d":49,"f":230},{"s":1,"d":51,"f":170},{"s":1,"d":53,"f":240},{"s":1,"d":55,"f":190},{"s":1,"d":57,"f":280},{"s":1,"d":59,"f":230},{"s":1,"d":60,"f":290},{"s":1,"d":61,"f":240},{"s":1,"d":62,"f":300},{"s":1,"d":63,"f":200},{"s":1,"d":64,"f":340},{"s":1,"d":65,"f":250},{"s":1,"d":66,"f":330},{"s":1,"d":67,"f":260},{"s":1,"d":68,"f":200},{"s":1,"d":69,"f":280},{"s":1,"d":70,"f":330},{"s":1,"d":71,"f":260},{"s":1,"d":72,"f":220},{"s":1,"d":73,"f":150},{"s":1,"d":74,"f":80},{"s":1,"d":76,"f":20},{"s":1,"d":78,"f":80},{"s":1,"d":80,"f":-10},{"s":1,"d":82,"f":40},{"s":1,"d":84,"f":-20},{"s":1,"d":86,"f":60},{"s":1,"d":88,"f":-30},{"s":1,"d":90,"f":40},{"s":1,"d":92,"f":-40},{"s":1,"d":94,"f":20},{"s":1,"d":96,"f":-60},{"s":1,"d":98,"f":-20},{"s":1,"d":100,"f":-60},
{"s":2,"d":0.5,"f":100},{"s":2,"d":1.5,"f":240},{"s":2,"d":2.5,"f":380},{"s":2,"d":3,"f":580},{"s":2,"d":3.6,"f":420},{"s":2,"d":4.5,"f":300},{"s":2,"d":5.5,"f":160},{"s":2,"d":6.5,"f":90},{"s":2,"d":7.5,"f":180},{"s":2,"d":8.5,"f":100},{"s":2,"d":9.5,"f":210},{"s":2,"d":10.5,"f":320},{"s":2,"d":11.5,"f":420},{"s":2,"d":12.5,"f":560},{"s":2,"d":13.5,"f":610},{"s":2,"d":14.5,"f":520},{"s":2,"d":15.5,"f":620},{"s":2,"d":16.5,"f":560},{"s":2,"d":17.3,"f":680},{"s":2,"d":18,"f":780},{"s":2,"d":18.7,"f":820},{"s":2,"d":19.5,"f":760},{"s":2,"d":20.2,"f":520},{"s":2,"d":20.8,"f":150},{"s":2,"d":21.5,"f":30},{"s":2,"d":22.5,"f":-20},{"s":2,"d":23.5,"f":40},{"s":2,"d":25,"f":-10},{"s":2,"d":26.5,"f":60},{"s":2,"d":27.5,"f":250},{"s":2,"d":28.5,"f":200},{"s":2,"d":29.5,"f":140},{"s":2,"d":31,"f":100},{"s":2,"d":33,"f":170},{"s":2,"d":35,"f":220},{"s":2,"d":37,"f":160},{"s":2,"d":39,"f":200},{"s":2,"d":41,"f":130},{"s":2,"d":43,"f":260},{"s":2,"d":45,"f":190},{"s":2,"d":47,"f":240},{"s":2,"d":49,"f":170},{"s":2,"d":51,"f":250},{"s":2,"d":53,"f":180},{"s":2,"d":55,"f":230},{"s":2,"d":57,"f":180},{"s":2,"d":59,"f":130},{"s":2,"d":60.5,"f":60},{"s":2,"d":62,"f":120},{"s":2,"d":63,"f":30},{"s":2,"d":64.5,"f":90},{"s":2,"d":66,"f":40},{"s":2,"d":67.5,"f":110},{"s":2,"d":69,"f":20},{"s":2,"d":71,"f":-50},{"s":2,"d":73,"f":10},{"s":2,"d":75,"f":-40},{"s":2,"d":77,"f":40},{"s":2,"d":79,"f":-20},{"s":2,"d":81,"f":60},{"s":2,"d":83,"f":0},{"s":2,"d":85,"f":50},{"s":2,"d":87,"f":-30},{"s":2,"d":89,"f":20},{"s":2,"d":91,"f":-10},{"s":2,"d":94,"f":40},{"s":2,"d":97,"f":-40},{"s":2,"d":100,"f":10},
{"s":3,"d":0.5,"f":150},{"s":3,"d":1.5,"f":290},{"s":3,"d":2.5,"f":220},{"s":3,"d":3.5,"f":380},{"s":3,"d":4.5,"f":460},{"s":3,"d":5.5,"f":300},{"s":3,"d":6,"f":-10},{"s":3,"d":6.8,"f":120},{"s":3,"d":7.5,"f":60},{"s":3,"d":8.5,"f":180},{"s":3,"d":9.5,"f":250},{"s":3,"d":10.5,"f":300},{"s":3,"d":11.5,"f":380},{"s":3,"d":12.5,"f":420},{"s":3,"d":13.5,"f":350},{"s":3,"d":14.5,"f":470},{"s":3,"d":15.5,"f":560},{"s":3,"d":16.5,"f":600},{"s":3,"d":17.5,"f":650},{"s":3,"d":18.5,"f":760},{"s":3,"d":19.3,"f":850},{"s":3,"d":20.2,"f":980},{"s":3,"d":20.6,"f":1030},{"s":3,"d":21.2,"f":880},{"s":3,"d":22,"f":900},{"s":3,"d":22.7,"f":760},{"s":3,"d":23.5,"f":800},{"s":3,"d":24.3,"f":730},{"s":3,"d":25,"f":840},{"s":3,"d":25.8,"f":800},{"s":3,"d":26.5,"f":930},{"s":3,"d":27.3,"f":950},{"s":3,"d":28,"f":990},{"s":3,"d":28.6,"f":960},{"s":3,"d":29.2,"f":1030},{"s":3,"d":29.8,"f":900},{"s":3,"d":30.3,"f":500},{"s":3,"d":30.8,"f":150},{"s":3,"d":31.5,"f":100},{"s":3,"d":32.5,"f":170},{"s":3,"d":34,"f":110},{"s":3,"d":36,"f":40},{"s":3,"d":38,"f":130},{"s":3,"d":40,"f":200},{"s":3,"d":41.5,"f":300},{"s":3,"d":43,"f":220},{"s":3,"d":45,"f":280},{"s":3,"d":47,"f":220},{"s":3,"d":49,"f":300},{"s":3,"d":51,"f":240},{"s":3,"d":52.5,"f":350},{"s":3,"d":54,"f":230},{"s":3,"d":56,"f":180},{"s":3,"d":57,"f":90},{"s":3,"d":57.6,"f":-20},{"s":3,"d":58.5,"f":60},{"s":3,"d":60,"f":20},{"s":3,"d":62,"f":-30},{"s":3,"d":64,"f":40},{"s":3,"d":66,"f":-10},{"s":3,"d":68,"f":50},{"s":3,"d":70,"f":0},{"s":3,"d":72,"f":-40},{"s":3,"d":74,"f":20},{"s":3,"d":76,"f":-20},{"s":3,"d":78,"f":50},{"s":3,"d":80,"f":0},{"s":3,"d":82,"f":60},{"s":3,"d":84,"f":20},{"s":3,"d":86,"f":-30},{"s":3,"d":88,"f":40},{"s":3,"d":90,"f":10},{"s":3,"d":92,"f":100},{"s":3,"d":94,"f":70},{"s":3,"d":96,"f":110},{"s":3,"d":98,"f":50},{"s":3,"d":100,"f":90},
{"s":4,"d":0.5,"f":150},{"s":4,"d":1.5,"f":220},{"s":4,"d":2.5,"f":300},{"s":4,"d":3.5,"f":180},{"s":4,"d":4.5,"f":250},{"s":4,"d":5.5,"f":350},{"s":4,"d":6.5,"f":280},{"s":4,"d":7.5,"f":200},{"s":4,"d":8.5,"f":160},{"s":4,"d":9.5,"f":250},{"s":4,"d":10.5,"f":300},{"s":4,"d":11.5,"f":350},{"s":4,"d":12.5,"f":420},{"s":4,"d":13.5,"f":400},{"s":4,"d":14.5,"f":500},{"s":4,"d":15.5,"f":560},{"s":4,"d":16.5,"f":620},{"s":4,"d":17.3,"f":730},{"s":4,"d":18,"f":660},{"s":4,"d":18.8,"f":700},{"s":4,"d":19.4,"f":600},{"s":4,"d":20,"f":250},{"s":4,"d":20.6,"f":60},{"s":4,"d":21.5,"f":-20},{"s":4,"d":22.5,"f":10},{"s":4,"d":23.5,"f":-60},{"s":4,"d":25,"f":20},{"s":4,"d":27,"f":-40},{"s":4,"d":29,"f":50},{"s":4,"d":31,"f":30},{"s":4,"d":33,"f":100},{"s":4,"d":34.5,"f":230},{"s":4,"d":36,"f":170},{"s":4,"d":38,"f":120},{"s":4,"d":40,"f":220},{"s":4,"d":41.5,"f":330},{"s":4,"d":43,"f":260},{"s":4,"d":45,"f":290},{"s":4,"d":47,"f":210},{"s":4,"d":49,"f":260},{"s":4,"d":51,"f":200},{"s":4,"d":53,"f":270},{"s":4,"d":55,"f":210},{"s":4,"d":57,"f":240},{"s":4,"d":59,"f":150},{"s":4,"d":60.5,"f":80},{"s":4,"d":62,"f":20},{"s":4,"d":64,"f":-20},{"s":4,"d":66,"f":-60},{"s":4,"d":68,"f":-30},{"s":4,"d":70,"f":-80},{"s":4,"d":71.5,"f":-110},{"s":4,"d":73,"f":-40},{"s":4,"d":75,"f":-70},{"s":4,"d":77,"f":-20},{"s":4,"d":79,"f":-60},{"s":4,"d":81,"f":-80},{"s":4,"d":83,"f":-40},{"s":4,"d":85,"f":-100},{"s":4,"d":87,"f":-30},{"s":4,"d":89,"f":-70},{"s":4,"d":91,"f":20},{"s":4,"d":93,"f":100},{"s":4,"d":95,"f":60},{"s":4,"d":97,"f":20},{"s":4,"d":99,"f":80},{"s":4,"d":100,"f":60},
{"s":5,"d":0.5,"f":300},{"s":5,"d":1,"f":520},{"s":5,"d":1.7,"f":400},{"s":5,"d":2.5,"f":250},{"s":5,"d":3.5,"f":320},{"s":5,"d":4.5,"f":200},{"s":5,"d":5.5,"f":120},{"s":5,"d":6.5,"f":80},{"s":5,"d":7.5,"f":150},{"s":5,"d":8.5,"f":220},{"s":5,"d":9.5,"f":180},{"s":5,"d":10.5,"f":300},{"s":5,"d":11.5,"f":260},{"s":5,"d":12.5,"f":360},{"s":5,"d":13.5,"f":330},{"s":5,"d":14.5,"f":460},{"s":5,"d":15.5,"f":520},{"s":5,"d":16.5,"f":600},{"s":5,"d":17.5,"f":700},{"s":5,"d":18.5,"f":760},{"s":5,"d":19.5,"f":780},{"s":5,"d":20.5,"f":800},{"s":5,"d":21.5,"f":870},{"s":5,"d":22.5,"f":840},{"s":5,"d":23.5,"f":870},{"s":5,"d":24.3,"f":790},{"s":5,"d":25,"f":760},{"s":5,"d":25.8,"f":600},{"s":5,"d":26.5,"f":780},{"s":5,"d":27.2,"f":720},{"s":5,"d":27.8,"f":400},{"s":5,"d":28.3,"f":120},{"s":5,"d":29,"f":80},{"s":5,"d":30,"f":150},{"s":5,"d":32,"f":60},{"s":5,"d":34,"f":110},{"s":5,"d":35.5,"f":10},{"s":5,"d":37,"f":80},{"s":5,"d":39,"f":130},{"s":5,"d":41,"f":190},{"s":5,"d":43,"f":260},{"s":5,"d":44.5,"f":350},{"s":5,"d":46,"f":230},{"s":5,"d":48,"f":170},{"s":5,"d":49.5,"f":60},{"s":5,"d":51,"f":200},{"s":5,"d":53,"f":150},{"s":5,"d":55,"f":230},{"s":5,"d":57,"f":180},{"s":5,"d":58.5,"f":80},{"s":5,"d":60,"f":-20},{"s":5,"d":62,"f":-40},{"s":5,"d":64,"f":-80},{"s":5,"d":66,"f":-40},{"s":5,"d":68,"f":-90},{"s":5,"d":70,"f":-50},{"s":5,"d":72,"f":-10},{"s":5,"d":74,"f":-60},{"s":5,"d":76,"f":-90},{"s":5,"d":78,"f":-130},{"s":5,"d":79.5,"f":-100},{"s":5,"d":81,"f":-20},{"s":5,"d":83,"f":40},{"s":5,"d":85,"f":-30},{"s":5,"d":87,"f":20},{"s":5,"d":89,"f":-40},{"s":5,"d":91,"f":30},{"s":5,"d":94,"f":-20},{"s":5,"d":97,"f":40},{"s":5,"d":100,"f":-30},
{"s":6,"d":0.5,"f":50},{"s":6,"d":1.5,"f":200},{"s":6,"d":2.5,"f":320},{"s":6,"d":3.5,"f":250},{"s":6,"d":4.5,"f":160},{"s":6,"d":5.5,"f":80},{"s":6,"d":6.5,"f":130},{"s":6,"d":7.5,"f":40},{"s":6,"d":8.5,"f":110},{"s":6,"d":9.5,"f":200},{"s":6,"d":10.5,"f":280},{"s":6,"d":11.5,"f":250},{"s":6,"d":12.5,"f":340},{"s":6,"d":13.5,"f":300},{"s":6,"d":14.5,"f":420},{"s":6,"d":15.5,"f":520},{"s":6,"d":16.5,"f":600},{"s":6,"d":17.5,"f":750},{"s":6,"d":18.3,"f":900},{"s":6,"d":18.9,"f":930},{"s":6,"d":19.6,"f":900},{"s":6,"d":20.3,"f":850},{"s":6,"d":21,"f":880},{"s":6,"d":21.7,"f":840},{"s":6,"d":22.5,"f":900},{"s":6,"d":23.3,"f":860},{"s":6,"d":24,"f":880},{"s":6,"d":24.7,"f":830},{"s":6,"d":25.3,"f":600},{"s":6,"d":25.9,"f":200},{"s":6,"d":26.5,"f":60},{"s":6,"d":27.5,"f":130},{"s":6,"d":29,"f":80},{"s":6,"d":31,"f":150},{"s":6,"d":33,"f":60},{"s":6,"d":35,"f":120},{"s":6,"d":37,"f":90},{"s":6,"d":39,"f":160},{"s":6,"d":41,"f":230},{"s":6,"d":43,"f":180},{"s":6,"d":45,"f":250},{"s":6,"d":47,"f":200},{"s":6,"d":49,"f":280},{"s":6,"d":51,"f":230},{"s":6,"d":53,"f":290},{"s":6,"d":54.5,"f":340},{"s":6,"d":56,"f":260},{"s":6,"d":58,"f":240},{"s":6,"d":60,"f":280},{"s":6,"d":62,"f":230},{"s":6,"d":63.5,"f":190},{"s":6,"d":65,"f":260},{"s":6,"d":66.5,"f":180},{"s":6,"d":68,"f":140},{"s":6,"d":70,"f":100},{"s":6,"d":72,"f":60},{"s":6,"d":74,"f":90},{"s":6,"d":76,"f":40},{"s":6,"d":78,"f":70},{"s":6,"d":80,"f":20},{"s":6,"d":82,"f":80},{"s":6,"d":84,"f":30},{"s":6,"d":86,"f":70},{"s":6,"d":88,"f":10},{"s":6,"d":90,"f":-20},{"s":6,"d":92,"f":-70},{"s":6,"d":94,"f":-20},{"s":6,"d":96,"f":30},{"s":6,"d":98,"f":-40},{"s":6,"d":100,"f":20},
{"s":7,"d":0.5,"f":120},{"s":7,"d":1.5,"f":60},{"s":7,"d":2.5,"f":200},{"s":7,"d":3.5,"f":140},{"s":7,"d":4.5,"f":80},{"s":7,"d":5.5,"f":40},{"s":7,"d":6.5,"f":-30},{"s":7,"d":7.5,"f":-80},{"s":7,"d":8.5,"f":20},{"s":7,"d":9.5,"f":140},{"s":7,"d":10.5,"f":240},{"s":7,"d":11.5,"f":300},{"s":7,"d":12.5,"f":360},{"s":7,"d":13.5,"f":420},{"s":7,"d":14.5,"f":500},{"s":7,"d":15.5,"f":560},{"s":7,"d":16.5,"f":500},{"s":7,"d":17.5,"f":450},{"s":7,"d":18.2,"f":550},{"s":7,"d":19,"f":760},{"s":7,"d":19.8,"f":820},{"s":7,"d":20.5,"f":880},{"s":7,"d":21.2,"f":700},{"s":7,"d":21.9,"f":400},{"s":7,"d":22.5,"f":130},{"s":7,"d":23.5,"f":60},{"s":7,"d":24.5,"f":-30},{"s":7,"d":26,"f":40},{"s":7,"d":28,"f":0},{"s":7,"d":30,"f":80},{"s":7,"d":32,"f":40},{"s":7,"d":34,"f":110},{"s":7,"d":36,"f":60},{"s":7,"d":38,"f":120},{"s":7,"d":40,"f":200},{"s":7,"d":42,"f":160},{"s":7,"d":44,"f":250},{"s":7,"d":46,"f":320},{"s":7,"d":48,"f":230},{"s":7,"d":50,"f":280},{"s":7,"d":52,"f":220},{"s":7,"d":54,"f":260},{"s":7,"d":56,"f":230},{"s":7,"d":58,"f":180},{"s":7,"d":60,"f":150},{"s":7,"d":62,"f":250},{"s":7,"d":64,"f":200},{"s":7,"d":65.5,"f":260},{"s":7,"d":67,"f":190},{"s":7,"d":68.5,"f":120},{"s":7,"d":70,"f":80},{"s":7,"d":72,"f":20},{"s":7,"d":74,"f":60},{"s":7,"d":76,"f":-10},{"s":7,"d":78,"f":50},{"s":7,"d":80,"f":-30},{"s":7,"d":82,"f":30},{"s":7,"d":84,"f":-20},{"s":7,"d":86,"f":40},{"s":7,"d":88,"f":-30},{"s":7,"d":90,"f":10},{"s":7,"d":92,"f":-100},{"s":7,"d":94,"f":-60},{"s":7,"d":96,"f":-20},{"s":7,"d":98,"f":30},{"s":7,"d":100,"f":-10},
{"s":8,"d":0.5,"f":-60},{"s":8,"d":1,"f":100},{"s":8,"d":1.5,"f":220},{"s":8,"d":2.5,"f":330},{"s":8,"d":3.5,"f":400},{"s":8,"d":4.5,"f":300},{"s":8,"d":5.5,"f":220},{"s":8,"d":6.5,"f":150},{"s":8,"d":7.5,"f":260},{"s":8,"d":8.5,"f":200},{"s":8,"d":9.5,"f":100},{"s":8,"d":10.5,"f":410},{"s":8,"d":11.5,"f":300},{"s":8,"d":12.5,"f":360},{"s":8,"d":13.5,"f":420},{"s":8,"d":14.5,"f":500},{"s":8,"d":15.5,"f":460},{"s":8,"d":16.5,"f":560},{"s":8,"d":17.3,"f":720},{"s":8,"d":18,"f":640},{"s":8,"d":18.8,"f":700},{"s":8,"d":19.4,"f":580},{"s":8,"d":20,"f":250},{"s":8,"d":20.6,"f":40},{"s":8,"d":21.5,"f":130},{"s":8,"d":22.5,"f":90},{"s":8,"d":23.5,"f":150},{"s":8,"d":24.5,"f":80},{"s":8,"d":26,"f":120},{"s":8,"d":28,"f":60},{"s":8,"d":30,"f":110},{"s":8,"d":32,"f":70},{"s":8,"d":34,"f":140},{"s":8,"d":36,"f":100},{"s":8,"d":38,"f":170},{"s":8,"d":40,"f":230},{"s":8,"d":42,"f":190},{"s":8,"d":44,"f":260},{"s":8,"d":46,"f":210},{"s":8,"d":48,"f":290},{"s":8,"d":50,"f":240},{"s":8,"d":52,"f":200},{"s":8,"d":54,"f":280},{"s":8,"d":56,"f":230},{"s":8,"d":58,"f":150},{"s":8,"d":60,"f":60},{"s":8,"d":61,"f":-40},{"s":8,"d":62.5,"f":40},{"s":8,"d":64,"f":20},{"s":8,"d":65.5,"f":130},{"s":8,"d":67,"f":60},{"s":8,"d":69,"f":100},{"s":8,"d":71,"f":30},{"s":8,"d":73,"f":-30},{"s":8,"d":75,"f":20},{"s":8,"d":77,"f":-20},{"s":8,"d":79,"f":40},{"s":8,"d":81,"f":80},{"s":8,"d":83,"f":20},{"s":8,"d":85,"f":90},{"s":8,"d":87,"f":30},{"s":8,"d":89,"f":-20},{"s":8,"d":91,"f":60},{"s":8,"d":92.5,"f":-110},{"s":8,"d":94,"f":-60},{"s":8,"d":96,"f":10},{"s":8,"d":98,"f":-30},{"s":8,"d":100,"f":20},
{"s":9,"d":0.5,"f":150},{"s":9,"d":1.5,"f":230},{"s":9,"d":2.5,"f":80},{"s":9,"d":3.2,"f":-90},{"s":9,"d":4,"f":50},{"s":9,"d":5,"f":170},{"s":9,"d":6,"f":250},{"s":9,"d":7,"f":320},{"s":9,"d":8,"f":500},{"s":9,"d":8.8,"f":440},{"s":9,"d":9.5,"f":280},{"s":9,"d":10.5,"f":130},{"s":9,"d":11.5,"f":200},{"s":9,"d":12.5,"f":260},{"s":9,"d":13.5,"f":330},{"s":9,"d":14.5,"f":400},{"s":9,"d":15.5,"f":440},{"s":9,"d":16.3,"f":460},{"s":9,"d":17,"f":250},{"s":9,"d":17.8,"f":120},{"s":9,"d":18.5,"f":140},{"s":9,"d":19.5,"f":110},{"s":9,"d":20.5,"f":160},{"s":9,"d":21.5,"f":70},{"s":9,"d":22.5,"f":100},{"s":9,"d":24,"f":30},{"s":9,"d":26,"f":80},{"s":9,"d":28,"f":10},{"s":9,"d":30,"f":60},{"s":9,"d":32,"f":0},{"s":9,"d":34,"f":80},{"s":9,"d":36,"f":30},{"s":9,"d":38,"f":100},{"s":9,"d":40,"f":170},{"s":9,"d":42,"f":140},{"s":9,"d":44,"f":110},{"s":9,"d":46,"f":180},{"s":9,"d":48,"f":150},{"s":9,"d":50,"f":200},{"s":9,"d":52,"f":170},{"s":9,"d":54,"f":150},{"s":9,"d":56,"f":250},{"s":9,"d":57.5,"f":310},{"s":9,"d":58.5,"f":200},{"s":9,"d":60,"f":150},{"s":9,"d":61.5,"f":200},{"s":9,"d":63,"f":130},{"s":9,"d":64.5,"f":60},{"s":9,"d":66,"f":20},{"s":9,"d":68,"f":-30},{"s":9,"d":70,"f":30},{"s":9,"d":72,"f":-50},{"s":9,"d":74,"f":0},{"s":9,"d":76,"f":40},{"s":9,"d":78,"f":10},{"s":9,"d":80,"f":50},{"s":9,"d":82,"f":20},{"s":9,"d":84,"f":-10},{"s":9,"d":86,"f":50},{"s":9,"d":88,"f":0},{"s":9,"d":90,"f":40},{"s":9,"d":92,"f":70},{"s":9,"d":94,"f":-10},{"s":9,"d":96,"f":20},{"s":9,"d":98,"f":-40},{"s":9,"d":100,"f":0},
{"s":10,"d":0.5,"f":200},{"s":10,"d":1.5,"f":320},{"s":10,"d":2.5,"f":260},{"s":10,"d":3.5,"f":380},{"s":10,"d":4.5,"f":240},{"s":10,"d":5.5,"f":300},{"s":10,"d":6.5,"f":220},{"s":10,"d":7.5,"f":170},{"s":10,"d":8.5,"f":250},{"s":10,"d":9.5,"f":180},{"s":10,"d":10.5,"f":260},{"s":10,"d":11.5,"f":330},{"s":10,"d":12.5,"f":280},{"s":10,"d":13.5,"f":380},{"s":10,"d":14.5,"f":450},{"s":10,"d":15.5,"f":520},{"s":10,"d":16.5,"f":600},{"s":10,"d":17.3,"f":700},{"s":10,"d":18,"f":800},{"s":10,"d":18.7,"f":860},{"s":10,"d":19.3,"f":900},{"s":10,"d":20,"f":840},{"s":10,"d":20.5,"f":500},{"s":10,"d":20.9,"f":100},{"s":10,"d":21.5,"f":-20},{"s":10,"d":22.5,"f":60},{"s":10,"d":23.5,"f":120},{"s":10,"d":25,"f":40},{"s":10,"d":27,"f":110},{"s":10,"d":29,"f":60},{"s":10,"d":30.5,"f":120},{"s":10,"d":32,"f":-50},{"s":10,"d":33.5,"f":70},{"s":10,"d":35,"f":140},{"s":10,"d":37,"f":90},{"s":10,"d":39,"f":180},{"s":10,"d":41,"f":250},{"s":10,"d":43,"f":200},{"s":10,"d":45,"f":270},{"s":10,"d":47,"f":220},{"s":10,"d":49,"f":260},{"s":10,"d":51,"f":200},{"s":10,"d":53,"f":250},{"s":10,"d":55,"f":190},{"s":10,"d":57,"f":230},{"s":10,"d":58.5,"f":160},{"s":10,"d":60,"f":100},{"s":10,"d":61.5,"f":20},{"s":10,"d":63,"f":-20},{"s":10,"d":65,"f":40},{"s":10,"d":67,"f":-10},{"s":10,"d":69,"f":60},{"s":10,"d":71,"f":0},{"s":10,"d":73,"f":50},{"s":10,"d":75,"f":10},{"s":10,"d":77,"f":60},{"s":10,"d":79,"f":20},{"s":10,"d":81,"f":-10},{"s":10,"d":83,"f":30},{"s":10,"d":85,"f":70},{"s":10,"d":87,"f":20},{"s":10,"d":89,"f":100},{"s":10,"d":91,"f":50},{"s":10,"d":93,"f":80},{"s":10,"d":95,"f":20},{"s":10,"d":97,"f":-20},{"s":10,"d":100,"f":20}
],
"D": [
{"s":1,"d":0.5,"f":80},{"s":1,"d":1.5,"f":30},{"s":1,"d":2.5,"f":120},{"s":1,"d":3.5,"f":60},{"s":1,"d":4.5,"f":-20},{"s":1,"d":5.5,"f":80},{"s":1,"d":6.5,"f":-40},{"s":1,"d":7.5,"f":200},{"s":1,"d":8.5,"f":380},{"s":1,"d":9.5,"f":480},{"s":1,"d":10.3,"f":420},{"s":1,"d":11,"f":500},{"s":1,"d":11.7,"f":440},{"s":1,"d":12.3,"f":300},{"s":1,"d":13,"f":350},{"s":1,"d":13.8,"f":280},{"s":1,"d":14.5,"f":230},{"s":1,"d":15.3,"f":200},{"s":1,"d":16,"f":150},{"s":1,"d":17,"f":60},{"s":1,"d":18.5,"f":100},{"s":1,"d":20,"f":40},{"s":1,"d":22,"f":80},{"s":1,"d":24,"f":20},{"s":1,"d":26,"f":90},{"s":1,"d":28,"f":40},{"s":1,"d":30,"f":100},{"s":1,"d":32,"f":180},{"s":1,"d":34,"f":140},{"s":1,"d":36,"f":170},{"s":1,"d":38,"f":200},{"s":1,"d":40,"f":260},{"s":1,"d":42,"f":220},{"s":1,"d":44,"f":290},{"s":1,"d":46,"f":250},{"s":1,"d":48,"f":230},{"s":1,"d":50,"f":200},{"s":1,"d":52,"f":240},{"s":1,"d":54,"f":220},{"s":1,"d":56,"f":260},{"s":1,"d":57,"f":300},{"s":1,"d":58,"f":220},{"s":1,"d":59,"f":170},{"s":1,"d":60,"f":120},{"s":1,"d":61,"f":100},{"s":1,"d":63,"f":60},{"s":1,"d":65,"f":20},{"s":1,"d":67,"f":70},{"s":1,"d":69,"f":30},{"s":1,"d":71,"f":-20},{"s":1,"d":73,"f":40},{"s":1,"d":75,"f":0},{"s":1,"d":77,"f":60},{"s":1,"d":79,"f":20},{"s":1,"d":81,"f":-10},{"s":1,"d":83,"f":50},{"s":1,"d":85,"f":20},{"s":1,"d":87,"f":60},{"s":1,"d":89,"f":0},{"s":1,"d":91,"f":40},{"s":1,"d":93,"f":-30},{"s":1,"d":95,"f":30},{"s":1,"d":97,"f":60},{"s":1,"d":100,"f":20},
{"s":2,"d":0.5,"f":60},{"s":2,"d":1.5,"f":100},{"s":2,"d":2.5,"f":30},{"s":2,"d":3.5,"f":120},{"s":2,"d":4.5,"f":60},{"s":2,"d":5.5,"f":150},{"s":2,"d":6.5,"f":350},{"s":2,"d":7.5,"f":280},{"s":2,"d":8.5,"f":230},{"s":2,"d":9.5,"f":200},{"s":2,"d":10.5,"f":260},{"s":2,"d":11.5,"f":300},{"s":2,"d":12.5,"f":240},{"s":2,"d":13.5,"f":120},{"s":2,"d":14.5,"f":40},{"s":2,"d":16,"f":60},{"s":2,"d":18,"f":20},{"s":2,"d":20,"f":80},{"s":2,"d":22,"f":40},{"s":2,"d":24,"f":110},{"s":2,"d":26,"f":70},{"s":2,"d":28,"f":140},{"s":2,"d":30,"f":100},{"s":2,"d":32,"f":170},{"s":2,"d":34,"f":150},{"s":2,"d":36,"f":200},{"s":2,"d":38,"f":230},{"s":2,"d":40,"f":190},{"s":2,"d":42,"f":240},{"s":2,"d":44,"f":180},{"s":2,"d":44.8,"f":50},{"s":2,"d":45.5,"f":-10},{"s":2,"d":46.5,"f":40},{"s":2,"d":47.5,"f":0},{"s":2,"d":48.5,"f":60},{"s":2,"d":49.5,"f":20},{"s":2,"d":50.5,"f":70},{"s":2,"d":51.5,"f":40},{"s":2,"d":52.5,"f":60},{"s":2,"d":54,"f":0},{"s":2,"d":56,"f":20},{"s":2,"d":58,"f":-20},{"s":2,"d":60,"f":30},{"s":2,"d":62,"f":-30},{"s":2,"d":64,"f":60},{"s":2,"d":66,"f":-10},{"s":2,"d":68,"f":30},{"s":2,"d":70,"f":-10},{"s":2,"d":72,"f":50},{"s":2,"d":74,"f":10},{"s":2,"d":76,"f":70},{"s":2,"d":78,"f":0},{"s":2,"d":80,"f":-50},{"s":2,"d":82,"f":20},{"s":2,"d":84,"f":70},{"s":2,"d":86,"f":-20},{"s":2,"d":88,"f":40},{"s":2,"d":90,"f":-30},{"s":2,"d":92,"f":30},{"s":2,"d":94,"f":-20},{"s":2,"d":96,"f":20},{"s":2,"d":98,"f":-40},{"s":2,"d":100,"f":-50},
{"s":3,"d":0.5,"f":100},{"s":3,"d":1.5,"f":50},{"s":3,"d":2.5,"f":130},{"s":3,"d":3.5,"f":60},{"s":3,"d":4.5,"f":20},{"s":3,"d":5.5,"f":120},{"s":3,"d":6.5,"f":200},{"s":3,"d":7.5,"f":120},{"s":3,"d":8.5,"f":60},{"s":3,"d":9.5,"f":30},{"s":3,"d":10.3,"f":-100},{"s":3,"d":10.8,"f":-300},{"s":3,"d":11.3,"f":-40},{"s":3,"d":12,"f":60},{"s":3,"d":13,"f":150},{"s":3,"d":14,"f":90},{"s":3,"d":15.5,"f":30},{"s":3,"d":17,"f":80},{"s":3,"d":18.5,"f":20},{"s":3,"d":20,"f":60},{"s":3,"d":21,"f":-30},{"s":3,"d":22,"f":-130},{"s":3,"d":22.8,"f":-220},{"s":3,"d":23.5,"f":-80},{"s":3,"d":24.5,"f":60},{"s":3,"d":26,"f":120},{"s":3,"d":27,"f":60},{"s":3,"d":28,"f":-40},{"s":3,"d":28.5,"f":-70},{"s":3,"d":29.5,"f":60},{"s":3,"d":31,"f":150},{"s":3,"d":33,"f":220},{"s":3,"d":35,"f":170},{"s":3,"d":37,"f":200},{"s":3,"d":39,"f":240},{"s":3,"d":41,"f":200},{"s":3,"d":43,"f":270},{"s":3,"d":45,"f":230},{"s":3,"d":47,"f":200},{"s":3,"d":49,"f":260},{"s":3,"d":51,"f":230},{"s":3,"d":53,"f":280},{"s":3,"d":55,"f":240},{"s":3,"d":57,"f":270},{"s":3,"d":58,"f":220},{"s":3,"d":59,"f":200},{"s":3,"d":60,"f":120},{"s":3,"d":61,"f":60},{"s":3,"d":63,"f":20},{"s":3,"d":65,"f":-20},{"s":3,"d":67,"f":40},{"s":3,"d":69,"f":0},{"s":3,"d":71,"f":30},{"s":3,"d":73,"f":-30},{"s":3,"d":75,"f":20},{"s":3,"d":77,"f":60},{"s":3,"d":79,"f":-10},{"s":3,"d":81,"f":-40},{"s":3,"d":83,"f":20},{"s":3,"d":85,"f":50},{"s":3,"d":87,"f":0},{"s":3,"d":89,"f":30},{"s":3,"d":91,"f":-20},{"s":3,"d":93,"f":20},{"s":3,"d":95,"f":60},{"s":3,"d":97,"f":110},{"s":3,"d":99,"f":60},{"s":3,"d":100,"f":80},
{"s":4,"d":0.5,"f":100},{"s":4,"d":1.5,"f":40},{"s":4,"d":2.5,"f":140},{"s":4,"d":3.5,"f":80},{"s":4,"d":4.5,"f":180},{"s":4,"d":5.5,"f":120},{"s":4,"d":6.5,"f":250},{"s":4,"d":7.5,"f":320},{"s":4,"d":8.3,"f":400},{"s":4,"d":9,"f":330},{"s":4,"d":9.7,"f":200},{"s":4,"d":10.3,"f":60},{"s":4,"d":10.7,"f":-250},{"s":4,"d":11.2,"f":-60},{"s":4,"d":12,"f":120},{"s":4,"d":13,"f":60},{"s":4,"d":14,"f":160},{"s":4,"d":15.5,"f":100},{"s":4,"d":17,"f":60},{"s":4,"d":18.5,"f":120},{"s":4,"d":20,"f":70},{"s":4,"d":22,"f":40},{"s":4,"d":24,"f":100},{"s":4,"d":26,"f":50},{"s":4,"d":28,"f":120},{"s":4,"d":30,"f":80},{"s":4,"d":32,"f":170},{"s":4,"d":34,"f":120},{"s":4,"d":36,"f":190},{"s":4,"d":38,"f":250},{"s":4,"d":40,"f":210},{"s":4,"d":42,"f":270},{"s":4,"d":44,"f":230},{"s":4,"d":46,"f":250},{"s":4,"d":48,"f":290},{"s":4,"d":49.5,"f":340},{"s":4,"d":51,"f":250},{"s":4,"d":53,"f":230},{"s":4,"d":55,"f":200},{"s":4,"d":57,"f":170},{"s":4,"d":59,"f":120},{"s":4,"d":61,"f":80},{"s":4,"d":63,"f":20},{"s":4,"d":65,"f":60},{"s":4,"d":67,"f":10},{"s":4,"d":69,"f":50},{"s":4,"d":71,"f":-10},{"s":4,"d":73,"f":40},{"s":4,"d":75,"f":0},{"s":4,"d":77,"f":60},{"s":4,"d":79,"f":20},{"s":4,"d":81,"f":0},{"s":4,"d":83,"f":50},{"s":4,"d":85,"f":20},{"s":4,"d":87,"f":-30},{"s":4,"d":89,"f":40},{"s":4,"d":91,"f":10},{"s":4,"d":93,"f":60},{"s":4,"d":95,"f":20},{"s":4,"d":97,"f":-20},{"s":4,"d":100,"f":30},
{"s":5,"d":0.5,"f":50},{"s":5,"d":1.5,"f":120},{"s":5,"d":2.5,"f":60},{"s":5,"d":3.5,"f":20},{"s":5,"d":4.5,"f":80},{"s":5,"d":5.5,"f":150},{"s":5,"d":6.5,"f":-20},{"s":5,"d":7.5,"f":-90},{"s":5,"d":8.5,"f":40},{"s":5,"d":9.5,"f":250},{"s":5,"d":10.3,"f":400},{"s":5,"d":11,"f":500},{"s":5,"d":11.7,"f":550},{"s":5,"d":12.4,"f":460},{"s":5,"d":13,"f":300},{"s":5,"d":13.8,"f":150},{"s":5,"d":14.5,"f":60},{"s":5,"d":16,"f":100},{"s":5,"d":18,"f":40},{"s":5,"d":19.5,"f":-20},{"s":5,"d":21,"f":60},{"s":5,"d":23,"f":20},{"s":5,"d":25,"f":80},{"s":5,"d":27,"f":120},{"s":5,"d":29,"f":80},{"s":5,"d":31,"f":180},{"s":5,"d":33,"f":130},{"s":5,"d":35,"f":200},{"s":5,"d":37,"f":170},{"s":5,"d":39,"f":240},{"s":5,"d":41,"f":200},{"s":5,"d":43,"f":260},{"s":5,"d":45,"f":210},{"s":5,"d":47,"f":180},{"s":5,"d":49,"f":240},{"s":5,"d":51,"f":200},{"s":5,"d":53,"f":220},{"s":5,"d":55,"f":170},{"s":5,"d":57,"f":130},{"s":5,"d":59,"f":80},{"s":5,"d":61,"f":40},{"s":5,"d":63,"f":0},{"s":5,"d":65,"f":50},{"s":5,"d":67,"f":-20},{"s":5,"d":69,"f":30},{"s":5,"d":71,"f":-40},{"s":5,"d":73,"f":10},{"s":5,"d":75,"f":-30},{"s":5,"d":77,"f":30},{"s":5,"d":79,"f":-10},{"s":5,"d":81,"f":40},{"s":5,"d":83,"f":-20},{"s":5,"d":85,"f":20},{"s":5,"d":87,"f":-50},{"s":5,"d":89,"f":10},{"s":5,"d":91,"f":-30},{"s":5,"d":93,"f":20},{"s":5,"d":95,"f":-20},{"s":5,"d":97,"f":30},{"s":5,"d":99,"f":-50},{"s":5,"d":100,"f":-60},
{"s":6,"d":0.5,"f":120},{"s":6,"d":1.5,"f":80},{"s":6,"d":2.5,"f":160},{"s":6,"d":3.5,"f":100},{"s":6,"d":4.5,"f":40},{"s":6,"d":5.5,"f":150},{"s":6,"d":6.5,"f":90},{"s":6,"d":7.5,"f":220},{"s":6,"d":8.5,"f":300},{"s":6,"d":9.5,"f":380},{"s":6,"d":10.3,"f":500},{"s":6,"d":10.8,"f":600},{"s":6,"d":11.4,"f":560},{"s":6,"d":12,"f":420},{"s":6,"d":12.7,"f":250},{"s":6,"d":13.5,"f":160},{"s":6,"d":14.5,"f":100},{"s":6,"d":16,"f":140},{"s":6,"d":18,"f":60},{"s":6,"d":20,"f":110},{"s":6,"d":22,"f":40},{"s":6,"d":24,"f":120},{"s":6,"d":26,"f":240},{"s":6,"d":28,"f":190},{"s":6,"d":30,"f":230},{"s":6,"d":32,"f":150},{"s":6,"d":34,"f":200},{"s":6,"d":36,"f":250},{"s":6,"d":38,"f":310},{"s":6,"d":39.5,"f":250},{"s":6,"d":41,"f":200},{"s":6,"d":43,"f":240},{"s":6,"d":45,"f":210},{"s":6,"d":47,"f":270},{"s":6,"d":49,"f":230},{"s":6,"d":51,"f":210},{"s":6,"d":53,"f":180},{"s":6,"d":55,"f":240},{"s":6,"d":57,"f":190},{"s":6,"d":59,"f":150},{"s":6,"d":61,"f":100},{"s":6,"d":63,"f":50},{"s":6,"d":65,"f":110},{"s":6,"d":67,"f":60},{"s":6,"d":69,"f":20},{"s":6,"d":71,"f":80},{"s":6,"d":73,"f":30},{"s":6,"d":75,"f":60},{"s":6,"d":77,"f":20},{"s":6,"d":79,"f":70},{"s":6,"d":81,"f":100},{"s":6,"d":82.5,"f":120},{"s":6,"d":84,"f":60},{"s":6,"d":86,"f":10},{"s":6,"d":88,"f":60},{"s":6,"d":90,"f":-20},{"s":6,"d":92,"f":40},{"s":6,"d":94,"f":0},{"s":6,"d":96,"f":70},{"s":6,"d":98,"f":30},{"s":6,"d":100,"f":110},
{"s":7,"d":0.5,"f":-20},{"s":7,"d":1.5,"f":-60},{"s":7,"d":2.5,"f":20},{"s":7,"d":3.5,"f":-40},{"s":7,"d":4.5,"f":60},{"s":7,"d":5.5,"f":120},{"s":7,"d":6.5,"f":200},{"s":7,"d":7.5,"f":120},{"s":7,"d":8.5,"f":-60},{"s":7,"d":9.2,"f":-200},{"s":7,"d":10,"f":-120},{"s":7,"d":10.8,"f":40},{"s":7,"d":11.5,"f":150},{"s":7,"d":12.3,"f":300},{"s":7,"d":13,"f":450},{"s":7,"d":13.7,"f":580},{"s":7,"d":14.3,"f":560},{"s":7,"d":15,"f":400},{"s":7,"d":15.8,"f":200},{"s":7,"d":16.5,"f":60},{"s":7,"d":17.5,"f":-20},{"s":7,"d":18.5,"f":-100},{"s":7,"d":19.5,"f":-60},{"s":7,"d":20.5,"f":0},{"s":7,"d":22,"f":60},{"s":7,"d":24,"f":20},{"s":7,"d":26,"f":90},{"s":7,"d":28,"f":60},{"s":7,"d":30,"f":130},{"s":7,"d":32,"f":190},{"s":7,"d":34,"f":160},{"s":7,"d":36,"f":230},{"s":7,"d":38,"f":200},{"s":7,"d":39.5,"f":330},{"s":7,"d":41,"f":240},{"s":7,"d":43,"f":270},{"s":7,"d":45,"f":220},{"s":7,"d":47,"f":250},{"s":7,"d":49,"f":200},{"s":7,"d":51,"f":240},{"s":7,"d":53,"f":190},{"s":7,"d":55,"f":220},{"s":7,"d":57,"f":160},{"s":7,"d":59,"f":120},{"s":7,"d":61,"f":70},{"s":7,"d":63,"f":20},{"s":7,"d":65,"f":60},{"s":7,"d":67,"f":0},{"s":7,"d":69,"f":40},{"s":7,"d":71,"f":-30},{"s":7,"d":73,"f":20},{"s":7,"d":75,"f":50},{"s":7,"d":77,"f":-10},{"s":7,"d":79,"f":30},{"s":7,"d":81,"f":-30},{"s":7,"d":83,"f":20},{"s":7,"d":85,"f":60},{"s":7,"d":87,"f":-20},{"s":7,"d":89,"f":30},{"s":7,"d":91,"f":0},{"s":7,"d":93,"f":50},{"s":7,"d":95,"f":-10},{"s":7,"d":97,"f":40},{"s":7,"d":100,"f":10},
{"s":8,"d":0.5,"f":90},{"s":8,"d":1.5,"f":150},{"s":8,"d":2.5,"f":60},{"s":8,"d":3.5,"f":120},{"s":8,"d":4.5,"f":40},{"s":8,"d":5.5,"f":-20},{"s":8,"d":6.5,"f":-60},{"s":8,"d":7.5,"f":50},{"s":8,"d":8.5,"f":120},{"s":8,"d":9.5,"f":30},{"s":8,"d":10.5,"f":-40},{"s":8,"d":11.5,"f":60},{"s":8,"d":12.5,"f":20},{"s":8,"d":13.5,"f":100},{"s":8,"d":15,"f":40},{"s":8,"d":17,"f":90},{"s":8,"d":19,"f":30},{"s":8,"d":21,"f":80},{"s":8,"d":22.5,"f":20},{"s":8,"d":24,"f":60},{"s":8,"d":25.5,"f":-20},{"s":8,"d":27,"f":-40},{"s":8,"d":28.5,"f":-50},{"s":8,"d":29.5,"f":-40},{"s":8,"d":30.5,"f":50},{"s":8,"d":32,"f":150},{"s":8,"d":34,"f":100},{"s":8,"d":36,"f":180},{"s":8,"d":38,"f":140},{"s":8,"d":40,"f":200},{"s":8,"d":42,"f":240},{"s":8,"d":44,"f":190},{"s":8,"d":46,"f":260},{"s":8,"d":48,"f":220},{"s":8,"d":50,"f":250},{"s":8,"d":52,"f":210},{"s":8,"d":54,"f":250},{"s":8,"d":56,"f":200},{"s":8,"d":58,"f":160},{"s":8,"d":60,"f":140},{"s":8,"d":61,"f":80},{"s":8,"d":63,"f":30},{"s":8,"d":65,"f":80},{"s":8,"d":67,"f":20},{"s":8,"d":69,"f":60},{"s":8,"d":71,"f":0},{"s":8,"d":73,"f":50},{"s":8,"d":75,"f":10},{"s":8,"d":77,"f":60},{"s":8,"d":79,"f":-20},{"s":8,"d":81,"f":-60},{"s":8,"d":83,"f":10},{"s":8,"d":85,"f":60},{"s":8,"d":87,"f":20},{"s":8,"d":89,"f":-40},{"s":8,"d":91,"f":30},{"s":8,"d":93,"f":-50},{"s":8,"d":94.5,"f":140},{"s":8,"d":96,"f":60},{"s":8,"d":98,"f":100},{"s":8,"d":100,"f":30},
{"s":9,"d":0.5,"f":60},{"s":9,"d":1.5,"f":130},{"s":9,"d":2.5,"f":80},{"s":9,"d":3.5,"f":180},{"s":9,"d":4.5,"f":110},{"s":9,"d":5.5,"f":200},{"s":9,"d":6.5,"f":280},{"s":9,"d":7.5,"f":160},{"s":9,"d":8.5,"f":240},{"s":9,"d":9.5,"f":120},{"s":9,"d":10.5,"f":200},{"s":9,"d":11.5,"f":140},{"s":9,"d":12.5,"f":60},{"s":9,"d":13.5,"f":120},{"s":9,"d":14.5,"f":40},{"s":9,"d":16,"f":130},{"s":9,"d":18,"f":80},{"s":9,"d":20,"f":140},{"s":9,"d":22,"f":100},{"s":9,"d":24,"f":150},{"s":9,"d":26,"f":90},{"s":9,"d":28,"f":140},{"s":9,"d":30,"f":100},{"s":9,"d":32,"f":180},{"s":9,"d":34,"f":150},{"s":9,"d":36,"f":210},{"s":9,"d":38,"f":260},{"s":9,"d":40,"f":220},{"s":9,"d":42,"f":290},{"s":9,"d":44,"f":240},{"s":9,"d":46,"f":270},{"s":9,"d":48,"f":220},{"s":9,"d":50,"f":280},{"s":9,"d":52,"f":240},{"s":9,"d":54,"f":200},{"s":9,"d":55.5,"f":140},{"s":9,"d":56.5,"f":-30},{"s":9,"d":57,"f":-100},{"s":9,"d":58,"f":40},{"s":9,"d":60,"f":80},{"s":9,"d":62,"f":20},{"s":9,"d":64,"f":100},{"s":9,"d":66,"f":50},{"s":9,"d":68,"f":110},{"s":9,"d":70,"f":60},{"s":9,"d":72,"f":120},{"s":9,"d":74,"f":80},{"s":9,"d":76,"f":30},{"s":9,"d":76.5,"f":-70},{"s":9,"d":77.5,"f":20},{"s":9,"d":79,"f":80},{"s":9,"d":81,"f":40},{"s":9,"d":83,"f":90},{"s":9,"d":85,"f":50},{"s":9,"d":87,"f":110},{"s":9,"d":89,"f":60},{"s":9,"d":91,"f":20},{"s":9,"d":93,"f":70},{"s":9,"d":95,"f":30},{"s":9,"d":97,"f":80},{"s":9,"d":100,"f":60},
{"s":10,"d":0.5,"f":40},{"s":10,"d":1.5,"f":100},{"s":10,"d":2.5,"f":60},{"s":10,"d":3.5,"f":140},{"s":10,"d":4.5,"f":80},{"s":10,"d":5.5,"f":20},{"s":10,"d":6.5,"f":160},{"s":10,"d":7.5,"f":300},{"s":10,"d":8.3,"f":250},{"s":10,"d":9,"f":350},{"s":10,"d":9.7,"f":180},{"s":10,"d":10.3,"f":80},{"s":10,"d":11,"f":140},{"s":10,"d":11.6,"f":20},{"s":10,"d":12.3,"f":300},{"s":10,"d":13,"f":420},{"s":10,"d":13.6,"f":350},{"s":10,"d":14.2,"f":150},{"s":10,"d":15,"f":60},{"s":10,"d":16,"f":120},{"s":10,"d":17.5,"f":60},{"s":10,"d":19,"f":100},{"s":10,"d":20.5,"f":40},{"s":10,"d":22,"f":120},{"s":10,"d":24,"f":70},{"s":10,"d":26,"f":150},{"s":10,"d":28,"f":100},{"s":10,"d":30,"f":170},{"s":10,"d":32,"f":130},{"s":10,"d":34,"f":200},{"s":10,"d":36,"f":150},{"s":10,"d":38,"f":220},{"s":10,"d":40,"f":170},{"s":10,"d":42,"f":130},{"s":10,"d":44,"f":190},{"s":10,"d":46,"f":150},{"s":10,"d":48,"f":230},{"s":10,"d":50,"f":180},{"s":10,"d":51.5,"f":200},{"s":10,"d":52.5,"f":40},{"s":10,"d":54,"f":0},{"s":10,"d":56,"f":60},{"s":10,"d":58,"f":20},{"s":10,"d":60,"f":-20},{"s":10,"d":62,"f":30},{"s":10,"d":64,"f":-10},{"s":10,"d":66,"f":50},{"s":10,"d":68,"f":0},{"s":10,"d":70,"f":80},{"s":10,"d":72,"f":30},{"s":10,"d":74,"f":90},{"s":10,"d":76,"f":40},{"s":10,"d":78,"f":0},{"s":10,"d":80,"f":60},{"s":10,"d":82,"f":20},{"s":10,"d":84,"f":80},{"s":10,"d":86,"f":30},{"s":10,"d":88,"f":70},{"s":10,"d":90,"f":20},{"s":10,"d":92,"f":-10},{"s":10,"d":94,"f":40},{"s":10,"d":96,"f":0},{"s":10,"d":98,"f":50},{"s":10,"d":100,"f":60}
]
},
"concat": [
{
 "width": 524, "height": 333,
 "layer": [
  {"data": {"name": "A"}, "mark": {"type": "line", "strokeWidth": 1.8, "clip": true},
   "encoding": {
    "x": {"field": "d", "type": "quantitative", "scale": {"domain": [0, 100], "nice": false}, "axis": {"values": [0, 20, 40, 60, 80, 100], "format": "d", "title": null, "labelFont": "Liberation Serif", "labelFontSize": 22, "labelColor": "#000", "labelPadding": 0, "labelFlush": false, "labelOverlap": false, "ticks": false, "domain": false, "grid": true, "gridColor": "#888", "gridDash": [1, 2], "gridOpacity": 1}},
    "y": {"field": "f", "type": "quantitative", "scale": {"domain": [-400, 1200], "nice": false, "zero": false}, "axis": {"values": [-400, -200, 0, 200, 400, 600, 800, 1000, 1200], "format": "d", "title": "Force (pN)", "titleFont": "Liberation Serif", "titleFontSize": 20, "titleFontWeight": "normal", "titleColor": "#000", "titlePadding": 8, "labelFont": "Liberation Serif", "labelFontSize": 22, "labelColor": "#000", "labelPadding": 4, "labelFlush": false, "labelOverlap": false, "ticks": false, "domain": false, "grid": true, "gridColor": "#888", "gridDash": [1, 2], "gridOpacity": 1}},
    "color": {"field": "s", "type": "nominal", "scale": {"domain": [1,2,3,4,5,6,7,8,9,10], "range": ["#000000","#ff0000","#22dd22","#0000ff","#ffff00","#bc8f8f","#dcdcdc","#9400d3","#00ffff","#ff00ff"]}, "legend": {"labelExpr": "'Trajectory ' + datum.label"}}
   }},
  {"data": {"values": [{}]}, "mark": {"type": "text", "font": "Liberation Sans", "fontSize": 18, "color": "#000", "align": "center", "baseline": "middle"},
   "encoding": {"x": {"datum": -13.9, "type": "quantitative"}, "y": {"datum": 1459, "type": "quantitative"}, "text": {"value": "A"}}},
  {"data": {"values": [{}]}, "mark": {"type": "text", "font": "Liberation Serif", "fontSize": 22, "color": "#000", "align": "center", "baseline": "middle"},
   "encoding": {"x": {"datum": 50, "type": "quantitative"}, "y": {"datum": 1392, "type": "quantitative"}, "text": {"value": "CA I (1HCB) - Velocity=0.02 Å/ps"}}}
 ]
},
{
 "width": 524, "height": 333,
 "layer": [
  {"data": {"name": "B"}, "mark": {"type": "line", "strokeWidth": 1.8, "clip": true},
   "encoding": {
    "x": {"field": "d", "type": "quantitative", "scale": {"domain": [0, 100], "nice": false}, "axis": {"values": [0, 20, 40, 60, 80, 100], "format": "d", "title": null, "labelFont": "Liberation Serif", "labelFontSize": 22, "labelColor": "#000", "labelPadding": 0, "labelFlush": false, "labelOverlap": false, "ticks": false, "domain": false, "grid": true, "gridColor": "#888", "gridDash": [1, 2], "gridOpacity": 1}},
    "y": {"field": "f", "type": "quantitative", "scale": {"domain": [-400, 1200], "nice": false, "zero": false}, "axis": {"values": [-400, -200, 0, 200, 400, 600, 800, 1000, 1200], "title": null, "labels": false, "ticks": false, "domain": false, "grid": true, "gridColor": "#888", "gridDash": [1, 2], "gridOpacity": 1}},
    "color": {"field": "s", "type": "nominal", "scale": {"domain": [1,2,3,4,5,6,7,8,9,10], "range": ["#000000","#ff0000","#22dd22","#0000ff","#ffff00","#bc8f8f","#dcdcdc","#9400d3","#00ffff","#ff00ff"]}, "legend": {"labelExpr": "'Trajectory ' + datum.label"}}
   }},
  {"data": {"values": [{}]}, "mark": {"type": "text", "font": "Liberation Sans", "fontSize": 18, "color": "#000", "align": "center", "baseline": "middle"},
   "encoding": {"x": {"datum": -7.6, "type": "quantitative"}, "y": {"datum": 1402, "type": "quantitative"}, "text": {"value": "B"}}},
  {"data": {"values": [{}]}, "mark": {"type": "text", "font": "Liberation Serif", "fontSize": 22, "color": "#000", "align": "center", "baseline": "middle"},
   "encoding": {"x": {"datum": 50, "type": "quantitative"}, "y": {"datum": 1392, "type": "quantitative"}, "text": {"value": "CA II (3F8E) - Velocity=0.02 Å/ps"}}}
 ]
},
{
 "width": 524, "height": 333,
 "layer": [
  {"data": {"name": "C"}, "mark": {"type": "line", "strokeWidth": 1.8, "clip": true},
   "encoding": {
    "x": {"field": "d", "type": "quantitative", "scale": {"domain": [0, 100], "nice": false}, "axis": {"values": [0, 20, 40, 60, 80, 100], "format": "d", "title": "Distance (Å)", "titleFont": "Liberation Serif", "titleFontSize": 20, "titleFontWeight": "normal", "titleColor": "#000", "titlePadding": 1, "labelFont": "Liberation Serif", "labelFontSize": 22, "labelColor": "#000", "labelPadding": 0, "labelFlush": false, "labelOverlap": false, "ticks": false, "domain": false, "grid": true, "gridColor": "#888", "gridDash": [1, 2], "gridOpacity": 1}},
    "y": {"field": "f", "type": "quantitative", "scale": {"domain": [-400, 1200], "nice": false, "zero": false}, "axis": {"values": [-400, -200, 0, 200, 400, 600, 800, 1000, 1200], "format": "d", "title": "Force (pN)", "titleFont": "Liberation Serif", "titleFontSize": 20, "titleFontWeight": "normal", "titleColor": "#000", "titlePadding": 8, "labelFont": "Liberation Serif", "labelFontSize": 22, "labelColor": "#000", "labelPadding": 4, "labelFlush": false, "labelOverlap": false, "ticks": false, "domain": false, "grid": true, "gridColor": "#888", "gridDash": [1, 2], "gridOpacity": 1}},
    "color": {"field": "s", "type": "nominal", "scale": {"domain": [1,2,3,4,5,6,7,8,9,10], "range": ["#000000","#ff0000","#22dd22","#0000ff","#ffff00","#bc8f8f","#dcdcdc","#9400d3","#00ffff","#ff00ff"]}, "legend": {"labelExpr": "datum.label == '10' ? 'Trajectroy 10' : 'Trajectory ' + datum.label"}}
   }},
  {"data": {"values": [{}]}, "mark": {"type": "text", "font": "Liberation Sans", "fontSize": 18, "color": "#000", "align": "center", "baseline": "middle"},
   "encoding": {"x": {"datum": -13.9, "type": "quantitative"}, "y": {"datum": 1435, "type": "quantitative"}, "text": {"value": "C"}}},
  {"data": {"values": [{}]}, "mark": {"type": "text", "font": "Liberation Serif", "fontSize": 22, "color": "#000", "align": "center", "baseline": "middle"},
   "encoding": {"x": {"datum": 50, "type": "quantitative"}, "y": {"datum": 1392, "type": "quantitative"}, "text": {"value": "CA III (1Z93) -Velocity=0.02 Å/ps"}}}
 ]
},
{
 "width": 524, "height": 333,
 "layer": [
  {"data": {"name": "D"}, "mark": {"type": "line", "strokeWidth": 1.8, "clip": true},
   "encoding": {
    "x": {"field": "d", "type": "quantitative", "scale": {"domain": [0, 100], "nice": false}, "axis": {"values": [0, 20, 40, 60, 80, 100], "format": "d", "title": "Distance (Å)", "titleFont": "Liberation Serif", "titleFontSize": 20, "titleFontWeight": "normal", "titleColor": "#000", "titlePadding": 1, "labelFont": "Liberation Serif", "labelFontSize": 22, "labelColor": "#000", "labelPadding": 0, "labelFlush": false, "labelOverlap": false, "ticks": false, "domain": false, "grid": true, "gridColor": "#888", "gridDash": [1, 2], "gridOpacity": 1}},
    "y": {"field": "f", "type": "quantitative", "scale": {"domain": [-400, 1200], "nice": false, "zero": false}, "axis": {"values": [-400, -200, 0, 200, 400, 600, 800, 1000, 1200], "title": null, "labels": false, "ticks": false, "domain": false, "grid": true, "gridColor": "#888", "gridDash": [1, 2], "gridOpacity": 1}},
    "color": {"field": "s", "type": "nominal", "scale": {"domain": [1,2,3,4,5,6,7,8,9,10], "range": ["#000000","#ff0000","#22dd22","#0000ff","#ffff00","#bc8f8f","#dcdcdc","#9400d3","#00ffff","#ff00ff"]}, "legend": {"labelExpr": "'Trajectory ' + datum.label"}}
   }},
  {"data": {"values": [{}]}, "mark": {"type": "text", "font": "Liberation Sans", "fontSize": 18, "color": "#000", "align": "center", "baseline": "middle"},
   "encoding": {"x": {"datum": -7.6, "type": "quantitative"}, "y": {"datum": 1378, "type": "quantitative"}, "text": {"value": "D"}}},
  {"data": {"values": [{}]}, "mark": {"type": "text", "font": "Liberation Serif", "fontSize": 22, "color": "#000", "align": "center", "baseline": "middle"},
   "encoding": {"x": {"datum": 50, "type": "quantitative"}, "y": {"datum": 1392, "type": "quantitative"}, "text": {"value": "CA VII (3MDZ) - Velocity=0.02 Å/ps"}}}
 ]
}
]
}
